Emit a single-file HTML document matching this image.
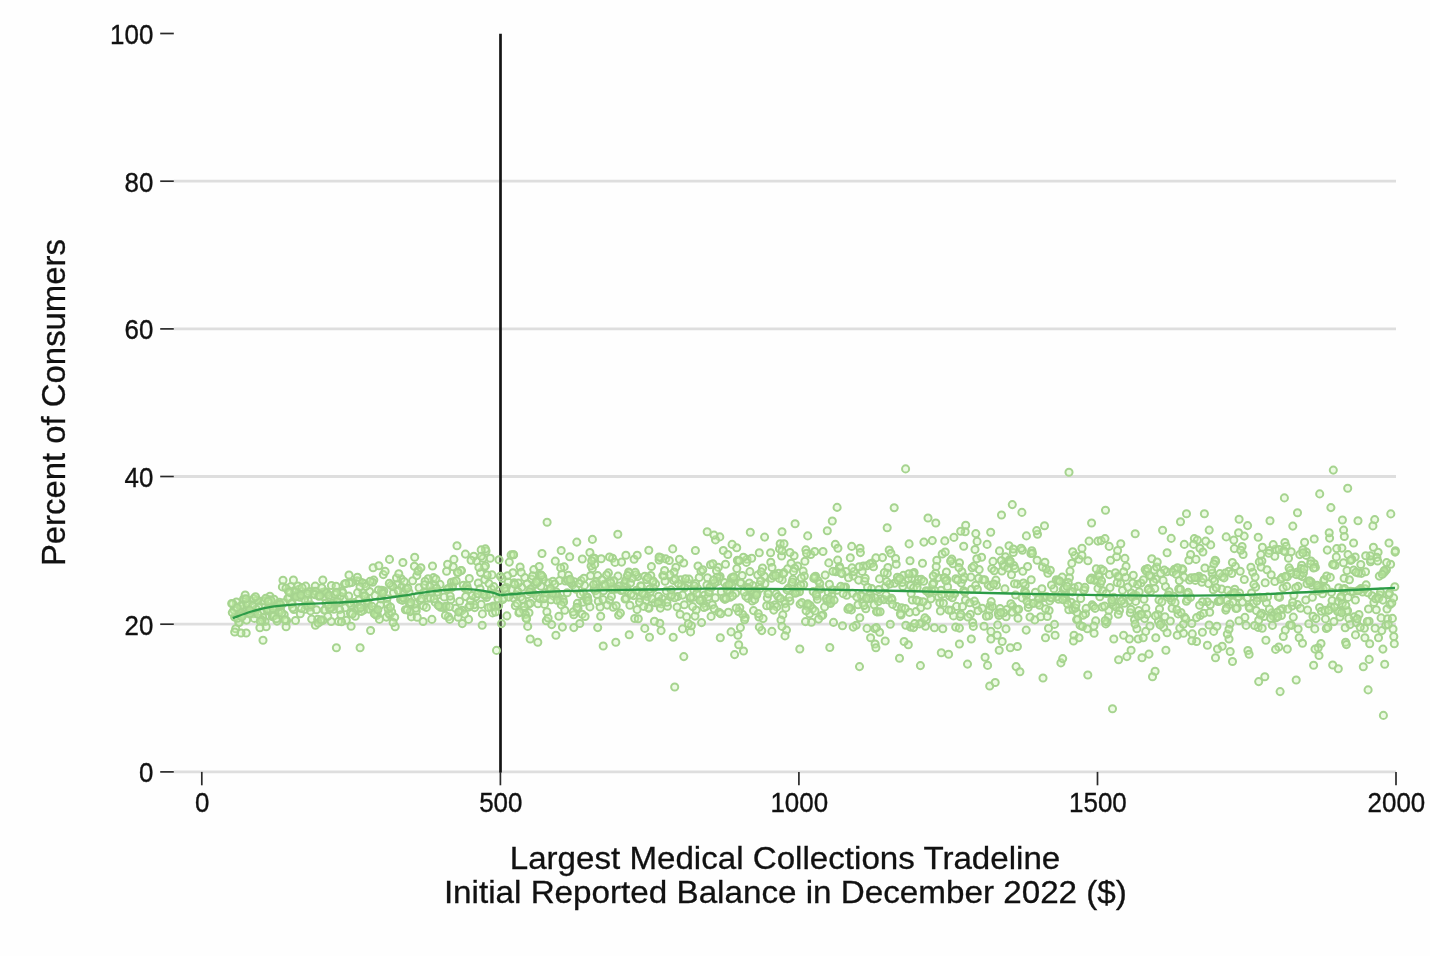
<!DOCTYPE html>
<html><head><meta charset="utf-8"><title>Chart</title>
<style>
html,body{margin:0;padding:0;background:#fff;}
body{width:1430px;height:956px;overflow:hidden;}
svg{display:block;will-change:transform;font-family:"Liberation Sans",sans-serif;}
</style></head><body>
<svg width="1430" height="956" viewBox="0 0 1430 956">
<rect width="1430" height="956" fill="#fefefe"/>
<g stroke="#dedede" stroke-width="2.8"><line x1="173.8" x2="1396" y1="771.9" y2="771.9"/><line x1="173.8" x2="1396" y1="624.2" y2="624.2"/><line x1="173.8" x2="1396" y1="476.5" y2="476.5"/><line x1="173.8" x2="1396" y1="328.9" y2="328.9"/><line x1="173.8" x2="1396" y1="181.2" y2="181.2"/></g>
<line x1="500.5" x2="500.5" y1="33.8" y2="772.6" stroke="#141414" stroke-width="2.7"/>
<g stroke="#2a2a2a" stroke-width="1.7"><line x1="160.2" x2="173.8" y1="771.9" y2="771.9"/><line x1="160.2" x2="173.8" y1="624.2" y2="624.2"/><line x1="160.2" x2="173.8" y1="476.5" y2="476.5"/><line x1="160.2" x2="173.8" y1="328.9" y2="328.9"/><line x1="160.2" x2="173.8" y1="181.2" y2="181.2"/><line x1="160.2" x2="173.8" y1="33.5" y2="33.5"/><line x1="201.8" x2="201.8" y1="771.9" y2="785.3"/><line x1="500.4" x2="500.4" y1="771.9" y2="785.3"/><line x1="798.9" x2="798.9" y1="771.9" y2="785.3"/><line x1="1097.5" x2="1097.5" y1="771.9" y2="785.3"/><line x1="1396.0" x2="1396.0" y1="771.9" y2="785.3"/></g>
<g fill="#c8f5a8" fill-opacity="0.3" stroke="#a6d48f" stroke-width="2"><circle cx="511.7" cy="589.5" r="3.55"/><circle cx="1215.5" cy="657.8" r="3.55"/><circle cx="1313.0" cy="616.3" r="3.55"/><circle cx="806.7" cy="604.6" r="3.55"/><circle cx="895.6" cy="558.5" r="3.55"/><circle cx="466.3" cy="587.9" r="3.55"/><circle cx="885.5" cy="586.6" r="3.55"/><circle cx="988.8" cy="615.7" r="3.55"/><circle cx="1065.2" cy="597.8" r="3.55"/><circle cx="845.5" cy="587.0" r="3.55"/><circle cx="987.1" cy="544.4" r="3.55"/><circle cx="544.5" cy="604.4" r="3.55"/><circle cx="290.8" cy="586.6" r="3.55"/><circle cx="972.1" cy="567.8" r="3.55"/><circle cx="1129.1" cy="600.7" r="3.55"/><circle cx="261.5" cy="601.2" r="3.55"/><circle cx="782.8" cy="614.9" r="3.55"/><circle cx="592.9" cy="558.0" r="3.55"/><circle cx="1330.9" cy="606.8" r="3.55"/><circle cx="759.5" cy="584.7" r="3.55"/><circle cx="902.8" cy="586.4" r="3.55"/><circle cx="244.8" cy="607.8" r="3.55"/><circle cx="535.0" cy="584.5" r="3.55"/><circle cx="451.4" cy="582.3" r="3.55"/><circle cx="690.2" cy="598.4" r="3.55"/><circle cx="363.0" cy="592.8" r="3.55"/><circle cx="490.2" cy="558.3" r="3.55"/><circle cx="877.7" cy="612.0" r="3.55"/><circle cx="289.6" cy="597.3" r="3.55"/><circle cx="655.6" cy="583.9" r="3.55"/><circle cx="1144.0" cy="599.2" r="3.55"/><circle cx="531.4" cy="579.0" r="3.55"/><circle cx="724.9" cy="599.4" r="3.55"/><circle cx="416.2" cy="610.9" r="3.55"/><circle cx="737.4" cy="560.2" r="3.55"/><circle cx="492.6" cy="612.9" r="3.55"/><circle cx="811.4" cy="622.3" r="3.55"/><circle cx="603.6" cy="590.7" r="3.55"/><circle cx="601.2" cy="558.8" r="3.55"/><circle cx="600.1" cy="607.0" r="3.55"/><circle cx="1109.4" cy="574.6" r="3.55"/><circle cx="1342.9" cy="589.3" r="3.55"/><circle cx="331.4" cy="585.5" r="3.55"/><circle cx="1001.9" cy="571.0" r="3.55"/><circle cx="647.2" cy="596.6" r="3.55"/><circle cx="1066.4" cy="599.8" r="3.55"/><circle cx="1278.8" cy="647.0" r="3.55"/><circle cx="465.7" cy="596.6" r="3.55"/><circle cx="865.8" cy="608.7" r="3.55"/><circle cx="1348.2" cy="597.4" r="3.55"/><circle cx="965.5" cy="600.0" r="3.55"/><circle cx="683.8" cy="656.6" r="3.55"/><circle cx="1293.9" cy="595.2" r="3.55"/><circle cx="1259.9" cy="597.4" r="3.55"/><circle cx="618.6" cy="615.1" r="3.55"/><circle cx="527.8" cy="594.5" r="3.55"/><circle cx="1221.6" cy="589.1" r="3.55"/><circle cx="899.5" cy="658.3" r="3.55"/><circle cx="925.5" cy="626.2" r="3.55"/><circle cx="547.1" cy="522.3" r="3.55"/><circle cx="1355.2" cy="557.0" r="3.55"/><circle cx="1387.6" cy="618.7" r="3.55"/><circle cx="1210.3" cy="604.8" r="3.55"/><circle cx="1229.0" cy="639.0" r="3.55"/><circle cx="710.5" cy="564.8" r="3.55"/><circle cx="503.9" cy="597.9" r="3.55"/><circle cx="423.1" cy="621.5" r="3.55"/><circle cx="1150.6" cy="591.4" r="3.55"/><circle cx="816.8" cy="596.1" r="3.55"/><circle cx="373.1" cy="567.8" r="3.55"/><circle cx="867.0" cy="628.4" r="3.55"/><circle cx="988.2" cy="585.1" r="3.55"/><circle cx="474.7" cy="607.6" r="3.55"/><circle cx="758.9" cy="617.0" r="3.55"/><circle cx="888.5" cy="600.0" r="3.55"/><circle cx="626.9" cy="587.2" r="3.55"/><circle cx="1031.8" cy="550.8" r="3.55"/><circle cx="1234.8" cy="589.3" r="3.55"/><circle cx="386.3" cy="617.1" r="3.55"/><circle cx="1266.4" cy="602.7" r="3.55"/><circle cx="1353.6" cy="570.1" r="3.55"/><circle cx="731.4" cy="577.9" r="3.55"/><circle cx="521.8" cy="587.3" r="3.55"/><circle cx="533.2" cy="593.4" r="3.55"/><circle cx="782.0" cy="531.8" r="3.55"/><circle cx="730.2" cy="597.2" r="3.55"/><circle cx="499.2" cy="590.5" r="3.55"/><circle cx="813.2" cy="591.5" r="3.55"/><circle cx="1144.6" cy="618.6" r="3.55"/><circle cx="376.2" cy="611.7" r="3.55"/><circle cx="989.7" cy="686.0" r="3.55"/><circle cx="1378.5" cy="637.7" r="3.55"/><circle cx="468.6" cy="619.4" r="3.55"/><circle cx="268.7" cy="611.1" r="3.55"/><circle cx="706.3" cy="606.4" r="3.55"/><circle cx="1113.0" cy="605.0" r="3.55"/><circle cx="963.7" cy="590.8" r="3.55"/><circle cx="896.8" cy="606.6" r="3.55"/><circle cx="1215.7" cy="561.2" r="3.55"/><circle cx="1329.1" cy="609.7" r="3.55"/><circle cx="443.6" cy="607.2" r="3.55"/><circle cx="931.5" cy="589.8" r="3.55"/><circle cx="728.4" cy="612.2" r="3.55"/><circle cx="917.7" cy="583.2" r="3.55"/><circle cx="986.4" cy="616.3" r="3.55"/><circle cx="1323.8" cy="580.7" r="3.55"/><circle cx="1379.9" cy="595.0" r="3.55"/><circle cx="1095.7" cy="620.9" r="3.55"/><circle cx="1003.1" cy="564.6" r="3.55"/><circle cx="246.2" cy="633.0" r="3.55"/><circle cx="720.1" cy="576.5" r="3.55"/><circle cx="1068.8" cy="609.7" r="3.55"/><circle cx="433.5" cy="577.6" r="3.55"/><circle cx="608.4" cy="572.9" r="3.55"/><circle cx="918.3" cy="579.5" r="3.55"/><circle cx="1012.7" cy="606.2" r="3.55"/><circle cx="953.0" cy="563.7" r="3.55"/><circle cx="244.2" cy="599.7" r="3.55"/><circle cx="468.7" cy="607.1" r="3.55"/><circle cx="306.9" cy="595.3" r="3.55"/><circle cx="712.3" cy="604.7" r="3.55"/><circle cx="1013.3" cy="552.5" r="3.55"/><circle cx="1275.4" cy="549.3" r="3.55"/><circle cx="1056.3" cy="579.8" r="3.55"/><circle cx="434.7" cy="584.5" r="3.55"/><circle cx="853.2" cy="575.9" r="3.55"/><circle cx="734.6" cy="654.6" r="3.55"/><circle cx="803.7" cy="584.6" r="3.55"/><circle cx="1283.1" cy="588.0" r="3.55"/><circle cx="277.6" cy="603.8" r="3.55"/><circle cx="300.3" cy="613.8" r="3.55"/><circle cx="965.7" cy="525.3" r="3.55"/><circle cx="373.8" cy="580.1" r="3.55"/><circle cx="486.0" cy="551.0" r="3.55"/><circle cx="798.3" cy="587.7" r="3.55"/><circle cx="483.0" cy="558.3" r="3.55"/><circle cx="1018.0" cy="618.3" r="3.55"/><circle cx="442.4" cy="607.1" r="3.55"/><circle cx="1363.3" cy="666.8" r="3.55"/><circle cx="270.5" cy="610.0" r="3.55"/><circle cx="1078.9" cy="559.2" r="3.55"/><circle cx="776.2" cy="593.9" r="3.55"/><circle cx="1218.1" cy="601.5" r="3.55"/><circle cx="967.5" cy="664.1" r="3.55"/><circle cx="1370.5" cy="561.8" r="3.55"/><circle cx="453.2" cy="566.7" r="3.55"/><circle cx="1028.2" cy="607.5" r="3.55"/><circle cx="266.9" cy="609.7" r="3.55"/><circle cx="755.9" cy="592.7" r="3.55"/><circle cx="338.5" cy="621.4" r="3.55"/><circle cx="474.1" cy="604.8" r="3.55"/><circle cx="1213.7" cy="631.4" r="3.55"/><circle cx="1154.2" cy="569.9" r="3.55"/><circle cx="725.5" cy="564.2" r="3.55"/><circle cx="333.2" cy="604.3" r="3.55"/><circle cx="979.2" cy="569.6" r="3.55"/><circle cx="938.6" cy="597.3" r="3.55"/><circle cx="383.9" cy="590.7" r="3.55"/><circle cx="1010.3" cy="647.8" r="3.55"/><circle cx="1047.9" cy="573.2" r="3.55"/><circle cx="350.5" cy="613.2" r="3.55"/><circle cx="1070.6" cy="591.2" r="3.55"/><circle cx="809.6" cy="613.7" r="3.55"/><circle cx="1302.3" cy="576.6" r="3.55"/><circle cx="1370.9" cy="559.9" r="3.55"/><circle cx="1311.2" cy="582.0" r="3.55"/><circle cx="1006.0" cy="628.9" r="3.55"/><circle cx="313.5" cy="591.2" r="3.55"/><circle cx="533.8" cy="569.6" r="3.55"/><circle cx="538.0" cy="603.7" r="3.55"/><circle cx="598.3" cy="601.2" r="3.55"/><circle cx="1165.9" cy="650.3" r="3.55"/><circle cx="956.5" cy="606.4" r="3.55"/><circle cx="332.6" cy="602.7" r="3.55"/><circle cx="265.1" cy="621.5" r="3.55"/><circle cx="955.9" cy="578.8" r="3.55"/><circle cx="527.2" cy="583.8" r="3.55"/><circle cx="1136.3" cy="595.5" r="3.55"/><circle cx="1253.3" cy="603.4" r="3.55"/><circle cx="1244.9" cy="617.4" r="3.55"/><circle cx="939.8" cy="602.7" r="3.55"/><circle cx="1117.2" cy="582.6" r="3.55"/><circle cx="1326.3" cy="628.5" r="3.55"/><circle cx="1338.7" cy="587.8" r="3.55"/><circle cx="234.6" cy="617.1" r="3.55"/><circle cx="425.7" cy="592.8" r="3.55"/><circle cx="322.8" cy="580.0" r="3.55"/><circle cx="1157.8" cy="614.5" r="3.55"/><circle cx="610.2" cy="580.8" r="3.55"/><circle cx="381.5" cy="590.2" r="3.55"/><circle cx="397.1" cy="584.6" r="3.55"/><circle cx="1037.1" cy="560.2" r="3.55"/><circle cx="878.9" cy="589.5" r="3.55"/><circle cx="1384.7" cy="664.2" r="3.55"/><circle cx="735.6" cy="593.3" r="3.55"/><circle cx="749.9" cy="571.6" r="3.55"/><circle cx="1016.8" cy="609.5" r="3.55"/><circle cx="1074.8" cy="555.6" r="3.55"/><circle cx="882.5" cy="557.6" r="3.55"/><circle cx="1258.1" cy="627.4" r="3.55"/><circle cx="284.2" cy="614.8" r="3.55"/><circle cx="389.9" cy="614.8" r="3.55"/><circle cx="1156.0" cy="579.1" r="3.55"/><circle cx="317.6" cy="619.4" r="3.55"/><circle cx="771.4" cy="578.3" r="3.55"/><circle cx="415.6" cy="608.2" r="3.55"/><circle cx="933.8" cy="582.8" r="3.55"/><circle cx="1299.2" cy="637.7" r="3.55"/><circle cx="266.2" cy="626.7" r="3.55"/><circle cx="1148.8" cy="588.6" r="3.55"/><circle cx="351.1" cy="626.3" r="3.55"/><circle cx="1261.9" cy="561.0" r="3.55"/><circle cx="638.9" cy="591.5" r="3.55"/><circle cx="1005.5" cy="556.9" r="3.55"/><circle cx="532.6" cy="575.9" r="3.55"/><circle cx="1085.5" cy="613.8" r="3.55"/><circle cx="781.0" cy="620.1" r="3.55"/><circle cx="427.5" cy="598.2" r="3.55"/><circle cx="644.8" cy="576.3" r="3.55"/><circle cx="346.3" cy="620.3" r="3.55"/><circle cx="1239.6" cy="593.1" r="3.55"/><circle cx="243.0" cy="605.2" r="3.55"/><circle cx="592.3" cy="568.6" r="3.55"/><circle cx="918.9" cy="601.2" r="3.55"/><circle cx="595.3" cy="590.7" r="3.55"/><circle cx="540.4" cy="574.8" r="3.55"/><circle cx="591.1" cy="565.9" r="3.55"/><circle cx="949.4" cy="596.1" r="3.55"/><circle cx="589.9" cy="606.9" r="3.55"/><circle cx="1183.5" cy="633.2" r="3.55"/><circle cx="1092.1" cy="604.9" r="3.55"/><circle cx="1120.7" cy="583.6" r="3.55"/><circle cx="990.9" cy="639.0" r="3.55"/><circle cx="582.7" cy="602.3" r="3.55"/><circle cx="784.0" cy="572.6" r="3.55"/><circle cx="417.4" cy="596.1" r="3.55"/><circle cx="339.1" cy="602.8" r="3.55"/><circle cx="1083.1" cy="615.3" r="3.55"/><circle cx="1215.1" cy="560.3" r="3.55"/><circle cx="1289.7" cy="625.0" r="3.55"/><circle cx="482.4" cy="613.9" r="3.55"/><circle cx="491.4" cy="589.0" r="3.55"/><circle cx="1084.3" cy="589.9" r="3.55"/><circle cx="982.2" cy="608.3" r="3.55"/><circle cx="557.7" cy="596.1" r="3.55"/><circle cx="275.2" cy="606.5" r="3.55"/><circle cx="251.4" cy="600.8" r="3.55"/><circle cx="435.3" cy="602.4" r="3.55"/><circle cx="1321.0" cy="643.5" r="3.55"/><circle cx="609.6" cy="600.1" r="3.55"/><circle cx="1170.3" cy="621.0" r="3.55"/><circle cx="235.2" cy="607.8" r="3.55"/><circle cx="786.5" cy="630.1" r="3.55"/><circle cx="1180.5" cy="521.8" r="3.55"/><circle cx="1040.7" cy="616.7" r="3.55"/><circle cx="752.9" cy="585.6" r="3.55"/><circle cx="1339.9" cy="617.0" r="3.55"/><circle cx="1022.8" cy="571.2" r="3.55"/><circle cx="395.2" cy="626.7" r="3.55"/><circle cx="1212.1" cy="573.3" r="3.55"/><circle cx="585.7" cy="596.8" r="3.55"/><circle cx="1297.5" cy="512.7" r="3.55"/><circle cx="1292.1" cy="606.0" r="3.55"/><circle cx="1150.0" cy="626.0" r="3.55"/><circle cx="602.5" cy="586.1" r="3.55"/><circle cx="1372.1" cy="595.7" r="3.55"/><circle cx="1030.9" cy="553.5" r="3.55"/><circle cx="1184.3" cy="544.4" r="3.55"/><circle cx="880.7" cy="598.7" r="3.55"/><circle cx="382.1" cy="591.3" r="3.55"/><circle cx="1230.6" cy="594.9" r="3.55"/><circle cx="1069.4" cy="577.8" r="3.55"/><circle cx="1097.5" cy="580.0" r="3.55"/><circle cx="750.3" cy="532.3" r="3.55"/><circle cx="729.6" cy="592.9" r="3.55"/><circle cx="1247.9" cy="650.5" r="3.55"/><circle cx="1369.1" cy="621.3" r="3.55"/><circle cx="1228.8" cy="571.3" r="3.55"/><circle cx="1299.9" cy="575.3" r="3.55"/><circle cx="640.1" cy="598.2" r="3.55"/><circle cx="982.8" cy="579.8" r="3.55"/><circle cx="805.5" cy="621.6" r="3.55"/><circle cx="723.3" cy="550.5" r="3.55"/><circle cx="770.6" cy="552.7" r="3.55"/><circle cx="943.4" cy="603.3" r="3.55"/><circle cx="260.9" cy="612.1" r="3.55"/><circle cx="1340.5" cy="598.1" r="3.55"/><circle cx="911.8" cy="578.1" r="3.55"/><circle cx="513.5" cy="598.0" r="3.55"/><circle cx="280.6" cy="610.2" r="3.55"/><circle cx="856.2" cy="625.2" r="3.55"/><circle cx="411.4" cy="616.9" r="3.55"/><circle cx="308.7" cy="605.0" r="3.55"/><circle cx="496.5" cy="650.4" r="3.55"/><circle cx="1231.2" cy="594.9" r="3.55"/><circle cx="1098.6" cy="573.9" r="3.55"/><circle cx="644.8" cy="628.4" r="3.55"/><circle cx="711.7" cy="587.3" r="3.55"/><circle cx="309.3" cy="591.5" r="3.55"/><circle cx="1086.1" cy="608.4" r="3.55"/><circle cx="637.7" cy="576.6" r="3.55"/><circle cx="354.1" cy="602.6" r="3.55"/><circle cx="453.9" cy="559.4" r="3.55"/><circle cx="1288.5" cy="558.2" r="3.55"/><circle cx="560.1" cy="600.6" r="3.55"/><circle cx="1234.3" cy="548.6" r="3.55"/><circle cx="1259.3" cy="561.9" r="3.55"/><circle cx="1099.8" cy="596.7" r="3.55"/><circle cx="997.7" cy="624.9" r="3.55"/><circle cx="281.2" cy="605.5" r="3.55"/><circle cx="1242.5" cy="602.1" r="3.55"/><circle cx="1009.0" cy="545.7" r="3.55"/><circle cx="781.6" cy="556.0" r="3.55"/><circle cx="1252.7" cy="572.3" r="3.55"/><circle cx="419.1" cy="587.7" r="3.55"/><circle cx="545.7" cy="596.7" r="3.55"/><circle cx="1026.4" cy="595.6" r="3.55"/><circle cx="748.1" cy="598.4" r="3.55"/><circle cx="590.5" cy="575.8" r="3.55"/><circle cx="673.5" cy="580.4" r="3.55"/><circle cx="659.1" cy="560.0" r="3.55"/><circle cx="972.7" cy="622.6" r="3.55"/><circle cx="288.4" cy="590.8" r="3.55"/><circle cx="996.5" cy="585.1" r="3.55"/><circle cx="518.9" cy="612.9" r="3.55"/><circle cx="753.5" cy="610.6" r="3.55"/><circle cx="1094.1" cy="633.2" r="3.55"/><circle cx="594.1" cy="589.1" r="3.55"/><circle cx="623.9" cy="585.8" r="3.55"/><circle cx="1159.0" cy="600.1" r="3.55"/><circle cx="672.7" cy="548.9" r="3.55"/><circle cx="1280.1" cy="691.6" r="3.55"/><circle cx="400.6" cy="599.5" r="3.55"/><circle cx="1189.4" cy="580.0" r="3.55"/><circle cx="682.5" cy="628.9" r="3.55"/><circle cx="297.3" cy="595.0" r="3.55"/><circle cx="1329.6" cy="538.1" r="3.55"/><circle cx="568.4" cy="575.4" r="3.55"/><circle cx="269.9" cy="596.2" r="3.55"/><circle cx="935.8" cy="523.0" r="3.55"/><circle cx="405.4" cy="609.8" r="3.55"/><circle cx="360.1" cy="647.7" r="3.55"/><circle cx="1225.2" cy="573.1" r="3.55"/><circle cx="1327.3" cy="550.1" r="3.55"/><circle cx="973.9" cy="566.1" r="3.55"/><circle cx="666.3" cy="590.9" r="3.55"/><circle cx="662.8" cy="575.6" r="3.55"/><circle cx="1093.3" cy="606.2" r="3.55"/><circle cx="749.3" cy="583.0" r="3.55"/><circle cx="1388.8" cy="594.7" r="3.55"/><circle cx="847.9" cy="609.3" r="3.55"/><circle cx="380.3" cy="605.1" r="3.55"/><circle cx="745.2" cy="617.5" r="3.55"/><circle cx="1264.0" cy="616.5" r="3.55"/><circle cx="1016.1" cy="666.6" r="3.55"/><circle cx="356.4" cy="610.2" r="3.55"/><circle cx="718.3" cy="567.4" r="3.55"/><circle cx="804.9" cy="561.2" r="3.55"/><circle cx="485.4" cy="548.9" r="3.55"/><circle cx="1000.1" cy="608.6" r="3.55"/><circle cx="1274.8" cy="581.5" r="3.55"/><circle cx="739.8" cy="607.8" r="3.55"/><circle cx="1378.1" cy="552.2" r="3.55"/><circle cx="1196.6" cy="641.5" r="3.55"/><circle cx="243.6" cy="599.0" r="3.55"/><circle cx="240.6" cy="605.7" r="3.55"/><circle cx="256.7" cy="600.3" r="3.55"/><circle cx="309.9" cy="607.0" r="3.55"/><circle cx="1074.0" cy="635.2" r="3.55"/><circle cx="1073.0" cy="609.6" r="3.55"/><circle cx="791.1" cy="563.2" r="3.55"/><circle cx="637.1" cy="609.6" r="3.55"/><circle cx="1025.2" cy="585.5" r="3.55"/><circle cx="782.2" cy="579.9" r="3.55"/><circle cx="997.2" cy="635.2" r="3.55"/><circle cx="1345.6" cy="642.2" r="3.55"/><circle cx="779.5" cy="548.9" r="3.55"/><circle cx="1210.7" cy="544.9" r="3.55"/><circle cx="800.1" cy="604.1" r="3.55"/><circle cx="1271.8" cy="612.9" r="3.55"/><circle cx="363.6" cy="610.0" r="3.55"/><circle cx="698.0" cy="566.0" r="3.55"/><circle cx="1091.5" cy="578.0" r="3.55"/><circle cx="1161.3" cy="623.2" r="3.55"/><circle cx="1068.2" cy="582.5" r="3.55"/><circle cx="1043.7" cy="596.7" r="3.55"/><circle cx="1375.1" cy="628.2" r="3.55"/><circle cx="699.2" cy="577.5" r="3.55"/><circle cx="501.5" cy="623.6" r="3.55"/><circle cx="235.7" cy="628.8" r="3.55"/><circle cx="928.0" cy="518.0" r="3.55"/><circle cx="1028.8" cy="604.4" r="3.55"/><circle cx="254.9" cy="612.2" r="3.55"/><circle cx="778.6" cy="573.2" r="3.55"/><circle cx="796.5" cy="591.5" r="3.55"/><circle cx="648.8" cy="550.2" r="3.55"/><circle cx="1006.1" cy="616.8" r="3.55"/><circle cx="948.6" cy="654.3" r="3.55"/><circle cx="573.8" cy="614.8" r="3.55"/><circle cx="245.4" cy="611.7" r="3.55"/><circle cx="612.6" cy="586.6" r="3.55"/><circle cx="649.0" cy="608.3" r="3.55"/><circle cx="1319.0" cy="655.5" r="3.55"/><circle cx="515.3" cy="605.8" r="3.55"/><circle cx="431.1" cy="590.9" r="3.55"/><circle cx="879.6" cy="632.2" r="3.55"/><circle cx="536.8" cy="596.4" r="3.55"/><circle cx="1017.4" cy="584.1" r="3.55"/><circle cx="469.9" cy="605.5" r="3.55"/><circle cx="885.2" cy="641.0" r="3.55"/><circle cx="1187.6" cy="599.4" r="3.55"/><circle cx="1390.0" cy="604.6" r="3.55"/><circle cx="946.4" cy="572.0" r="3.55"/><circle cx="1212.7" cy="578.8" r="3.55"/><circle cx="461.5" cy="570.6" r="3.55"/><circle cx="1105.8" cy="623.9" r="3.55"/><circle cx="976.2" cy="604.8" r="3.55"/><circle cx="367.8" cy="602.9" r="3.55"/><circle cx="1184.6" cy="617.3" r="3.55"/><circle cx="315.2" cy="586.1" r="3.55"/><circle cx="921.3" cy="579.4" r="3.55"/><circle cx="1292.8" cy="526.1" r="3.55"/><circle cx="990.0" cy="605.9" r="3.55"/><circle cx="961.3" cy="583.1" r="3.55"/><circle cx="815.6" cy="576.2" r="3.55"/><circle cx="747.0" cy="559.3" r="3.55"/><circle cx="810.8" cy="554.5" r="3.55"/><circle cx="282.4" cy="586.9" r="3.55"/><circle cx="1050.3" cy="570.3" r="3.55"/><circle cx="876.5" cy="611.6" r="3.55"/><circle cx="1386.4" cy="569.7" r="3.55"/><circle cx="493.2" cy="606.1" r="3.55"/><circle cx="1219.3" cy="601.0" r="3.55"/><circle cx="1249.1" cy="606.8" r="3.55"/><circle cx="721.3" cy="591.8" r="3.55"/><circle cx="1054.5" cy="624.4" r="3.55"/><circle cx="1239.1" cy="519.2" r="3.55"/><circle cx="1141.0" cy="583.0" r="3.55"/><circle cx="861.6" cy="596.3" r="3.55"/><circle cx="1364.4" cy="628.3" r="3.55"/><circle cx="912.3" cy="600.0" r="3.55"/><circle cx="579.8" cy="623.5" r="3.55"/><circle cx="404.8" cy="599.3" r="3.55"/><circle cx="951.8" cy="559.1" r="3.55"/><circle cx="770.8" cy="562.3" r="3.55"/><circle cx="262.7" cy="617.3" r="3.55"/><circle cx="684.3" cy="604.8" r="3.55"/><circle cx="1204.9" cy="568.0" r="3.55"/><circle cx="1002.2" cy="641.5" r="3.55"/><circle cx="990.9" cy="631.4" r="3.55"/><circle cx="1350.0" cy="624.6" r="3.55"/><circle cx="1091.6" cy="523.0" r="3.55"/><circle cx="910.6" cy="585.5" r="3.55"/><circle cx="236.4" cy="602.0" r="3.55"/><circle cx="975.0" cy="549.5" r="3.55"/><circle cx="1290.3" cy="570.4" r="3.55"/><circle cx="805.9" cy="549.9" r="3.55"/><circle cx="1162.6" cy="530.3" r="3.55"/><circle cx="542.7" cy="576.9" r="3.55"/><circle cx="1175.7" cy="569.6" r="3.55"/><circle cx="496.2" cy="594.1" r="3.55"/><circle cx="621.0" cy="590.5" r="3.55"/><circle cx="446.6" cy="571.2" r="3.55"/><circle cx="653.8" cy="588.1" r="3.55"/><circle cx="915.9" cy="611.6" r="3.55"/><circle cx="1112.5" cy="708.7" r="3.55"/><circle cx="1108.2" cy="617.0" r="3.55"/><circle cx="959.5" cy="562.7" r="3.55"/><circle cx="1012.3" cy="504.6" r="3.55"/><circle cx="665.1" cy="581.2" r="3.55"/><circle cx="675.9" cy="567.3" r="3.55"/><circle cx="543.3" cy="579.8" r="3.55"/><circle cx="677.7" cy="596.5" r="3.55"/><circle cx="889.2" cy="550.0" r="3.55"/><circle cx="716.5" cy="570.8" r="3.55"/><circle cx="1301.7" cy="565.3" r="3.55"/><circle cx="1338.1" cy="601.4" r="3.55"/><circle cx="322.4" cy="592.5" r="3.55"/><circle cx="1364.9" cy="637.7" r="3.55"/><circle cx="327.2" cy="594.1" r="3.55"/><circle cx="626.3" cy="598.2" r="3.55"/><circle cx="677.1" cy="607.0" r="3.55"/><circle cx="1282.6" cy="608.7" r="3.55"/><circle cx="401.8" cy="586.9" r="3.55"/><circle cx="965.2" cy="531.8" r="3.55"/><circle cx="437.1" cy="595.3" r="3.55"/><circle cx="326.6" cy="592.4" r="3.55"/><circle cx="1341.9" cy="548.1" r="3.55"/><circle cx="514.1" cy="582.7" r="3.55"/><circle cx="1376.3" cy="609.8" r="3.55"/><circle cx="1018.6" cy="609.3" r="3.55"/><circle cx="1060.9" cy="662.9" r="3.55"/><circle cx="1244.2" cy="536.1" r="3.55"/><circle cx="388.7" cy="613.2" r="3.55"/><circle cx="1264.8" cy="676.8" r="3.55"/><circle cx="635.9" cy="574.9" r="3.55"/><circle cx="687.8" cy="583.0" r="3.55"/><circle cx="1335.1" cy="565.3" r="3.55"/><circle cx="742.8" cy="614.6" r="3.55"/><circle cx="1280.2" cy="610.0" r="3.55"/><circle cx="613.2" cy="607.2" r="3.55"/><circle cx="1376.9" cy="557.4" r="3.55"/><circle cx="682.5" cy="595.1" r="3.55"/><circle cx="516.5" cy="594.8" r="3.55"/><circle cx="1171.5" cy="600.7" r="3.55"/><circle cx="953.5" cy="615.9" r="3.55"/><circle cx="719.5" cy="578.1" r="3.55"/><circle cx="391.1" cy="585.3" r="3.55"/><circle cx="484.8" cy="579.6" r="3.55"/><circle cx="1256.3" cy="610.6" r="3.55"/><circle cx="409.0" cy="592.1" r="3.55"/><circle cx="344.5" cy="584.0" r="3.55"/><circle cx="1373.4" cy="547.3" r="3.55"/><circle cx="305.1" cy="609.2" r="3.55"/><circle cx="1058.6" cy="599.2" r="3.55"/><circle cx="818.0" cy="580.6" r="3.55"/><circle cx="970.3" cy="614.4" r="3.55"/><circle cx="595.9" cy="584.2" r="3.55"/><circle cx="752.3" cy="601.0" r="3.55"/><circle cx="1080.1" cy="625.4" r="3.55"/><circle cx="1347.7" cy="488.3" r="3.55"/><circle cx="1205.7" cy="541.1" r="3.55"/><circle cx="551.7" cy="624.6" r="3.55"/><circle cx="364.8" cy="583.7" r="3.55"/><circle cx="326.0" cy="603.1" r="3.55"/><circle cx="1391.8" cy="603.0" r="3.55"/><circle cx="883.7" cy="599.6" r="3.55"/><circle cx="1032.4" cy="553.2" r="3.55"/><circle cx="1314.2" cy="563.8" r="3.55"/><circle cx="936.8" cy="560.2" r="3.55"/><circle cx="813.8" cy="578.4" r="3.55"/><circle cx="1343.5" cy="562.8" r="3.55"/><circle cx="1379.3" cy="576.1" r="3.55"/><circle cx="490.8" cy="607.0" r="3.55"/><circle cx="611.4" cy="596.4" r="3.55"/><circle cx="1383.5" cy="572.8" r="3.55"/><circle cx="690.6" cy="631.9" r="3.55"/><circle cx="1133.3" cy="575.3" r="3.55"/><circle cx="1015.6" cy="595.0" r="3.55"/><circle cx="586.9" cy="600.2" r="3.55"/><circle cx="853.2" cy="627.1" r="3.55"/><circle cx="1296.9" cy="572.3" r="3.55"/><circle cx="989.4" cy="609.7" r="3.55"/><circle cx="1316.0" cy="618.6" r="3.55"/><circle cx="584.5" cy="585.4" r="3.55"/><circle cx="1053.9" cy="588.8" r="3.55"/><circle cx="827.3" cy="530.8" r="3.55"/><circle cx="655.0" cy="602.7" r="3.55"/><circle cx="1291.5" cy="625.4" r="3.55"/><circle cx="745.8" cy="596.2" r="3.55"/><circle cx="520.1" cy="567.0" r="3.55"/><circle cx="923.9" cy="542.1" r="3.55"/><circle cx="245.2" cy="595.0" r="3.55"/><circle cx="481.2" cy="549.9" r="3.55"/><circle cx="1059.2" cy="580.7" r="3.55"/><circle cx="1297.5" cy="604.6" r="3.55"/><circle cx="1164.9" cy="616.7" r="3.55"/><circle cx="901.6" cy="607.7" r="3.55"/><circle cx="403.6" cy="592.0" r="3.55"/><circle cx="788.2" cy="588.4" r="3.55"/><circle cx="1342.4" cy="520.0" r="3.55"/><circle cx="625.9" cy="555.2" r="3.55"/><circle cx="872.3" cy="563.1" r="3.55"/><circle cx="896.2" cy="564.2" r="3.55"/><circle cx="635.3" cy="572.4" r="3.55"/><circle cx="1133.9" cy="595.3" r="3.55"/><circle cx="482.2" cy="625.2" r="3.55"/><circle cx="779.2" cy="578.4" r="3.55"/><circle cx="476.5" cy="561.1" r="3.55"/><circle cx="978.0" cy="610.8" r="3.55"/><circle cx="452.6" cy="586.1" r="3.55"/><circle cx="241.0" cy="633.0" r="3.55"/><circle cx="1009.1" cy="560.1" r="3.55"/><circle cx="684.9" cy="587.5" r="3.55"/><circle cx="659.8" cy="623.2" r="3.55"/><circle cx="372.6" cy="582.3" r="3.55"/><circle cx="1081.9" cy="555.3" r="3.55"/><circle cx="1126.9" cy="656.6" r="3.55"/><circle cx="990.6" cy="586.6" r="3.55"/><circle cx="414.7" cy="557.3" r="3.55"/><circle cx="478.3" cy="583.0" r="3.55"/><circle cx="528.4" cy="604.4" r="3.55"/><circle cx="518.3" cy="583.1" r="3.55"/><circle cx="506.3" cy="587.3" r="3.55"/><circle cx="1308.8" cy="623.8" r="3.55"/><circle cx="955.7" cy="627.1" r="3.55"/><circle cx="1011.5" cy="574.7" r="3.55"/><circle cx="325.4" cy="609.9" r="3.55"/><circle cx="732.6" cy="595.9" r="3.55"/><circle cx="803.1" cy="571.1" r="3.55"/><circle cx="1076.6" cy="619.6" r="3.55"/><circle cx="1362.6" cy="592.0" r="3.55"/><circle cx="1139.2" cy="591.9" r="3.55"/><circle cx="846.1" cy="571.6" r="3.55"/><circle cx="839.5" cy="566.5" r="3.55"/><circle cx="801.9" cy="602.6" r="3.55"/><circle cx="775.0" cy="604.7" r="3.55"/><circle cx="812.6" cy="608.8" r="3.55"/><circle cx="863.4" cy="566.0" r="3.55"/><circle cx="1305.8" cy="600.0" r="3.55"/><circle cx="530.2" cy="603.3" r="3.55"/><circle cx="667.5" cy="606.2" r="3.55"/><circle cx="1043.0" cy="678.0" r="3.55"/><circle cx="1026.4" cy="535.9" r="3.55"/><circle cx="837.1" cy="507.4" r="3.55"/><circle cx="343.9" cy="598.1" r="3.55"/><circle cx="1097.9" cy="541.1" r="3.55"/><circle cx="1090.9" cy="579.7" r="3.55"/><circle cx="751.7" cy="558.2" r="3.55"/><circle cx="921.9" cy="622.8" r="3.55"/><circle cx="719.8" cy="536.9" r="3.55"/><circle cx="1126.1" cy="566.4" r="3.55"/><circle cx="564.2" cy="566.9" r="3.55"/><circle cx="1367.9" cy="592.8" r="3.55"/><circle cx="1208.5" cy="583.6" r="3.55"/><circle cx="1207.3" cy="601.7" r="3.55"/><circle cx="475.9" cy="596.8" r="3.55"/><circle cx="432.5" cy="566.0" r="3.55"/><circle cx="628.1" cy="591.1" r="3.55"/><circle cx="1222.2" cy="576.7" r="3.55"/><circle cx="460.9" cy="570.6" r="3.55"/><circle cx="1372.9" cy="525.9" r="3.55"/><circle cx="383.3" cy="574.6" r="3.55"/><circle cx="520.7" cy="596.9" r="3.55"/><circle cx="706.9" cy="585.0" r="3.55"/><circle cx="470.5" cy="600.5" r="3.55"/><circle cx="592.4" cy="539.4" r="3.55"/><circle cx="820.4" cy="589.1" r="3.55"/><circle cx="738.6" cy="611.6" r="3.55"/><circle cx="484.2" cy="567.4" r="3.55"/><circle cx="1360.8" cy="588.6" r="3.55"/><circle cx="1385.8" cy="625.3" r="3.55"/><circle cx="807.3" cy="606.2" r="3.55"/><circle cx="1229.4" cy="604.5" r="3.55"/><circle cx="932.7" cy="584.4" r="3.55"/><circle cx="430.5" cy="598.3" r="3.55"/><circle cx="502.7" cy="599.6" r="3.55"/><circle cx="1272.4" cy="625.4" r="3.55"/><circle cx="258.5" cy="607.0" r="3.55"/><circle cx="1267.6" cy="596.9" r="3.55"/><circle cx="746.4" cy="562.4" r="3.55"/><circle cx="248.4" cy="611.9" r="3.55"/><circle cx="843.7" cy="587.3" r="3.55"/><circle cx="1233.8" cy="540.1" r="3.55"/><circle cx="1056.8" cy="596.8" r="3.55"/><circle cx="253.2" cy="613.7" r="3.55"/><circle cx="1395.4" cy="550.7" r="3.55"/><circle cx="993.0" cy="561.4" r="3.55"/><circle cx="827.6" cy="601.1" r="3.55"/><circle cx="861.0" cy="595.2" r="3.55"/><circle cx="829.8" cy="647.5" r="3.55"/><circle cx="823.0" cy="551.5" r="3.55"/><circle cx="486.6" cy="597.5" r="3.55"/><circle cx="977.1" cy="541.4" r="3.55"/><circle cx="1247.6" cy="525.6" r="3.55"/><circle cx="910.4" cy="627.1" r="3.55"/><circle cx="1251.5" cy="593.0" r="3.55"/><circle cx="987.6" cy="665.4" r="3.55"/><circle cx="1377.5" cy="597.2" r="3.55"/><circle cx="311.7" cy="619.1" r="3.55"/><circle cx="1026.2" cy="630.1" r="3.55"/><circle cx="368.4" cy="604.0" r="3.55"/><circle cx="594.7" cy="564.4" r="3.55"/><circle cx="1356.6" cy="622.7" r="3.55"/><circle cx="814.7" cy="551.5" r="3.55"/><circle cx="727.8" cy="554.5" r="3.55"/><circle cx="249.0" cy="613.2" r="3.55"/><circle cx="556.5" cy="592.1" r="3.55"/><circle cx="336.4" cy="647.7" r="3.55"/><circle cx="1324.3" cy="579.5" r="3.55"/><circle cx="1282.0" cy="577.6" r="3.55"/><circle cx="819.2" cy="588.6" r="3.55"/><circle cx="1280.8" cy="579.3" r="3.55"/><circle cx="1048.5" cy="628.3" r="3.55"/><circle cx="546.9" cy="611.8" r="3.55"/><circle cx="1038.3" cy="599.5" r="3.55"/><circle cx="523.6" cy="610.3" r="3.55"/><circle cx="1273.2" cy="544.6" r="3.55"/><circle cx="941.0" cy="590.4" r="3.55"/><circle cx="1306.4" cy="552.1" r="3.55"/><circle cx="587.5" cy="597.1" r="3.55"/><circle cx="572.6" cy="584.9" r="3.55"/><circle cx="538.6" cy="580.4" r="3.55"/><circle cx="913.6" cy="627.6" r="3.55"/><circle cx="1159.5" cy="609.0" r="3.55"/><circle cx="828.2" cy="592.2" r="3.55"/><circle cx="401.2" cy="578.7" r="3.55"/><circle cx="1046.1" cy="568.9" r="3.55"/><circle cx="618.0" cy="576.1" r="3.55"/><circle cx="947.6" cy="586.8" r="3.55"/><circle cx="1332.7" cy="665.0" r="3.55"/><circle cx="597.7" cy="575.6" r="3.55"/><circle cx="315.4" cy="625.2" r="3.55"/><circle cx="357.0" cy="580.8" r="3.55"/><circle cx="1186.5" cy="513.7" r="3.55"/><circle cx="1199.9" cy="548.2" r="3.55"/><circle cx="1033.0" cy="603.2" r="3.55"/><circle cx="437.7" cy="591.9" r="3.55"/><circle cx="1116.0" cy="607.0" r="3.55"/><circle cx="859.8" cy="617.8" r="3.55"/><circle cx="794.1" cy="555.8" r="3.55"/><circle cx="1270.0" cy="520.8" r="3.55"/><circle cx="465.1" cy="588.6" r="3.55"/><circle cx="1247.3" cy="597.8" r="3.55"/><circle cx="508.1" cy="582.0" r="3.55"/><circle cx="717.7" cy="581.4" r="3.55"/><circle cx="295.5" cy="620.5" r="3.55"/><circle cx="1344.6" cy="588.6" r="3.55"/><circle cx="1035.4" cy="592.2" r="3.55"/><circle cx="555.3" cy="561.1" r="3.55"/><circle cx="581.0" cy="580.6" r="3.55"/><circle cx="758.3" cy="613.6" r="3.55"/><circle cx="764.9" cy="583.8" r="3.55"/><circle cx="1304.6" cy="542.2" r="3.55"/><circle cx="1155.1" cy="671.2" r="3.55"/><circle cx="1082.0" cy="548.2" r="3.55"/><circle cx="457.4" cy="572.2" r="3.55"/><circle cx="1191.8" cy="640.7" r="3.55"/><circle cx="662.2" cy="598.8" r="3.55"/><circle cx="524.8" cy="577.6" r="3.55"/><circle cx="365.4" cy="596.2" r="3.55"/><circle cx="1275.6" cy="649.4" r="3.55"/><circle cx="596.5" cy="581.6" r="3.55"/><circle cx="492.0" cy="574.9" r="3.55"/><circle cx="1089.1" cy="541.1" r="3.55"/><circle cx="264.5" cy="600.9" r="3.55"/><circle cx="831.1" cy="601.6" r="3.55"/><circle cx="836.5" cy="571.2" r="3.55"/><circle cx="320.6" cy="621.4" r="3.55"/><circle cx="755.3" cy="590.7" r="3.55"/><circle cx="440.6" cy="607.3" r="3.55"/><circle cx="418.5" cy="570.4" r="3.55"/><circle cx="770.2" cy="605.8" r="3.55"/><circle cx="878.3" cy="601.5" r="3.55"/><circle cx="549.9" cy="590.9" r="3.55"/><circle cx="875.1" cy="644.0" r="3.55"/><circle cx="1384.7" cy="571.8" r="3.55"/><circle cx="458.1" cy="617.3" r="3.55"/><circle cx="1001.5" cy="515.0" r="3.55"/><circle cx="919.5" cy="623.9" r="3.55"/><circle cx="1177.2" cy="635.2" r="3.55"/><circle cx="905.6" cy="468.9" r="3.55"/><circle cx="709.3" cy="592.9" r="3.55"/><circle cx="472.3" cy="595.6" r="3.55"/><circle cx="760.1" cy="588.6" r="3.55"/><circle cx="1112.4" cy="602.3" r="3.55"/><circle cx="1188.8" cy="560.3" r="3.55"/><circle cx="495.0" cy="606.7" r="3.55"/><circle cx="357.6" cy="592.6" r="3.55"/><circle cx="1263.4" cy="597.8" r="3.55"/><circle cx="578.0" cy="608.5" r="3.55"/><circle cx="875.9" cy="647.8" r="3.55"/><circle cx="780.2" cy="543.7" r="3.55"/><circle cx="508.7" cy="597.1" r="3.55"/><circle cx="776.8" cy="606.9" r="3.55"/><circle cx="1101.0" cy="569.0" r="3.55"/><circle cx="240.0" cy="615.2" r="3.55"/><circle cx="890.9" cy="553.3" r="3.55"/><circle cx="505.7" cy="591.1" r="3.55"/><circle cx="402.4" cy="600.4" r="3.55"/><circle cx="897.4" cy="577.3" r="3.55"/><circle cx="1094.5" cy="580.4" r="3.55"/><circle cx="952.4" cy="597.7" r="3.55"/><circle cx="292.0" cy="602.7" r="3.55"/><circle cx="603.2" cy="646.0" r="3.55"/><circle cx="1360.8" cy="564.5" r="3.55"/><circle cx="853.8" cy="571.6" r="3.55"/><circle cx="880.1" cy="611.7" r="3.55"/><circle cx="428.1" cy="578.8" r="3.55"/><circle cx="331.2" cy="621.5" r="3.55"/><circle cx="840.1" cy="568.1" r="3.55"/><circle cx="453.8" cy="581.9" r="3.55"/><circle cx="1333.9" cy="621.6" r="3.55"/><circle cx="1006.7" cy="609.6" r="3.55"/><circle cx="509.3" cy="562.1" r="3.55"/><circle cx="310.5" cy="610.9" r="3.55"/><circle cx="539.8" cy="598.6" r="3.55"/><circle cx="815.0" cy="610.9" r="3.55"/><circle cx="1213.9" cy="564.0" r="3.55"/><circle cx="971.5" cy="589.2" r="3.55"/><circle cx="741.0" cy="583.4" r="3.55"/><circle cx="604.2" cy="584.2" r="3.55"/><circle cx="704.6" cy="595.0" r="3.55"/><circle cx="860.0" cy="548.2" r="3.55"/><circle cx="455.6" cy="608.2" r="3.55"/><circle cx="257.3" cy="600.1" r="3.55"/><circle cx="837.7" cy="560.1" r="3.55"/><circle cx="791.7" cy="584.3" r="3.55"/><circle cx="513.6" cy="554.7" r="3.55"/><circle cx="1237.8" cy="597.4" r="3.55"/><circle cx="574.4" cy="581.9" r="3.55"/><circle cx="1373.9" cy="602.4" r="3.55"/><circle cx="583.3" cy="592.4" r="3.55"/><circle cx="1326.7" cy="576.0" r="3.55"/><circle cx="624.5" cy="583.3" r="3.55"/><circle cx="1369.7" cy="643.8" r="3.55"/><circle cx="1143.4" cy="579.7" r="3.55"/><circle cx="1354.2" cy="616.9" r="3.55"/><circle cx="312.9" cy="593.8" r="3.55"/><circle cx="712.9" cy="563.8" r="3.55"/><circle cx="247.2" cy="603.5" r="3.55"/><circle cx="563.0" cy="599.4" r="3.55"/><circle cx="934.4" cy="627.8" r="3.55"/><circle cx="1043.1" cy="597.7" r="3.55"/><circle cx="633.5" cy="595.6" r="3.55"/><circle cx="974.4" cy="601.1" r="3.55"/><circle cx="846.7" cy="595.3" r="3.55"/><circle cx="1061.6" cy="594.1" r="3.55"/><circle cx="757.7" cy="575.1" r="3.55"/><circle cx="835.3" cy="544.4" r="3.55"/><circle cx="1099.2" cy="576.6" r="3.55"/><circle cx="734.4" cy="581.2" r="3.55"/><circle cx="944.0" cy="577.8" r="3.55"/><circle cx="555.9" cy="635.2" r="3.55"/><circle cx="612.5" cy="558.3" r="3.55"/><circle cx="323.0" cy="620.3" r="3.55"/><circle cx="862.8" cy="603.1" r="3.55"/><circle cx="1155.8" cy="637.7" r="3.55"/><circle cx="951.2" cy="610.3" r="3.55"/><circle cx="1202.9" cy="552.0" r="3.55"/><circle cx="1024.6" cy="591.2" r="3.55"/><circle cx="1179.8" cy="628.1" r="3.55"/><circle cx="414.4" cy="566.3" r="3.55"/><circle cx="1350.6" cy="591.4" r="3.55"/><circle cx="1158.4" cy="621.1" r="3.55"/><circle cx="294.4" cy="590.8" r="3.55"/><circle cx="891.5" cy="598.4" r="3.55"/><circle cx="239.4" cy="622.3" r="3.55"/><circle cx="393.5" cy="592.8" r="3.55"/><circle cx="1051.5" cy="585.0" r="3.55"/><circle cx="573.2" cy="611.9" r="3.55"/><circle cx="1156.6" cy="567.0" r="3.55"/><circle cx="674.7" cy="687.0" r="3.55"/><circle cx="661.0" cy="557.7" r="3.55"/><circle cx="253.7" cy="598.6" r="3.55"/><circle cx="926.7" cy="619.8" r="3.55"/><circle cx="564.8" cy="610.3" r="3.55"/><circle cx="842.5" cy="625.7" r="3.55"/><circle cx="773.2" cy="575.8" r="3.55"/><circle cx="349.0" cy="575.0" r="3.55"/><circle cx="1113.6" cy="597.2" r="3.55"/><circle cx="901.0" cy="615.0" r="3.55"/><circle cx="1388.2" cy="624.5" r="3.55"/><circle cx="914.1" cy="572.5" r="3.55"/><circle cx="797.1" cy="592.2" r="3.55"/><circle cx="625.7" cy="580.5" r="3.55"/><circle cx="358.2" cy="608.1" r="3.55"/><circle cx="1281.4" cy="615.5" r="3.55"/><circle cx="609.5" cy="557.0" r="3.55"/><circle cx="964.9" cy="592.3" r="3.55"/><circle cx="391.7" cy="612.0" r="3.55"/><circle cx="1345.2" cy="627.7" r="3.55"/><circle cx="1134.5" cy="619.7" r="3.55"/><circle cx="361.2" cy="611.5" r="3.55"/><circle cx="908.2" cy="578.5" r="3.55"/><circle cx="1351.8" cy="559.3" r="3.55"/><circle cx="621.6" cy="562.1" r="3.55"/><circle cx="674.1" cy="572.0" r="3.55"/><circle cx="529.0" cy="612.7" r="3.55"/><circle cx="580.4" cy="594.4" r="3.55"/><circle cx="1332.7" cy="564.4" r="3.55"/><circle cx="763.1" cy="618.6" r="3.55"/><circle cx="1116.6" cy="556.8" r="3.55"/><circle cx="416.8" cy="575.6" r="3.55"/><circle cx="1265.2" cy="582.7" r="3.55"/><circle cx="452.0" cy="587.5" r="3.55"/><circle cx="1145.2" cy="569.6" r="3.55"/><circle cx="644.3" cy="594.9" r="3.55"/><circle cx="1346.4" cy="644.6" r="3.55"/><circle cx="1300.5" cy="608.3" r="3.55"/><circle cx="1074.2" cy="587.7" r="3.55"/><circle cx="935.0" cy="590.8" r="3.55"/><circle cx="1131.5" cy="593.1" r="3.55"/><circle cx="714.1" cy="608.7" r="3.55"/><circle cx="629.3" cy="573.1" r="3.55"/><circle cx="942.2" cy="554.0" r="3.55"/><circle cx="680.7" cy="579.9" r="3.55"/><circle cx="852.0" cy="567.9" r="3.55"/><circle cx="1351.2" cy="560.1" r="3.55"/><circle cx="1022.2" cy="597.9" r="3.55"/><circle cx="553.5" cy="595.9" r="3.55"/><circle cx="743.5" cy="651.0" r="3.55"/><circle cx="736.7" cy="547.7" r="3.55"/><circle cx="517.7" cy="591.3" r="3.55"/><circle cx="449.0" cy="588.3" r="3.55"/><circle cx="438.3" cy="605.4" r="3.55"/><circle cx="875.3" cy="597.7" r="3.55"/><circle cx="1343.6" cy="530.1" r="3.55"/><circle cx="336.1" cy="586.2" r="3.55"/><circle cx="1380.5" cy="592.1" r="3.55"/><circle cx="620.4" cy="613.1" r="3.55"/><circle cx="485.4" cy="565.9" r="3.55"/><circle cx="799.8" cy="649.0" r="3.55"/><circle cx="992.4" cy="606.6" r="3.55"/><circle cx="1200.2" cy="615.5" r="3.55"/><circle cx="565.4" cy="581.0" r="3.55"/><circle cx="360.6" cy="607.7" r="3.55"/><circle cx="1359.0" cy="614.5" r="3.55"/><circle cx="286.1" cy="626.7" r="3.55"/><circle cx="913.5" cy="587.9" r="3.55"/><circle cx="440.0" cy="584.4" r="3.55"/><circle cx="606.6" cy="575.0" r="3.55"/><circle cx="927.9" cy="591.2" r="3.55"/><circle cx="408.4" cy="599.0" r="3.55"/><circle cx="1261.1" cy="567.1" r="3.55"/><circle cx="1136.9" cy="628.7" r="3.55"/><circle cx="287.8" cy="598.5" r="3.55"/><circle cx="1332.1" cy="600.6" r="3.55"/><circle cx="731.1" cy="631.9" r="3.55"/><circle cx="241.2" cy="613.0" r="3.55"/><circle cx="286.6" cy="620.7" r="3.55"/><circle cx="754.1" cy="592.7" r="3.55"/><circle cx="995.9" cy="580.1" r="3.55"/><circle cx="1318.4" cy="587.2" r="3.55"/><circle cx="665.7" cy="558.9" r="3.55"/><circle cx="666.9" cy="602.3" r="3.55"/><circle cx="1314.8" cy="628.9" r="3.55"/><circle cx="561.2" cy="550.5" r="3.55"/><circle cx="1117.8" cy="576.1" r="3.55"/><circle cx="1347.0" cy="570.6" r="3.55"/><circle cx="377.3" cy="614.6" r="3.55"/><circle cx="792.9" cy="579.4" r="3.55"/><circle cx="1125.5" cy="577.2" r="3.55"/><circle cx="1077.1" cy="612.6" r="3.55"/><circle cx="680.1" cy="614.3" r="3.55"/><circle cx="1063.4" cy="589.3" r="3.55"/><circle cx="848.5" cy="577.7" r="3.55"/><circle cx="473.8" cy="556.2" r="3.55"/><circle cx="940.4" cy="611.0" r="3.55"/><circle cx="1293.3" cy="617.1" r="3.55"/><circle cx="1239.0" cy="620.8" r="3.55"/><circle cx="532.0" cy="592.2" r="3.55"/><circle cx="619.2" cy="586.0" r="3.55"/><circle cx="991.8" cy="568.6" r="3.55"/><circle cx="754.7" cy="599.5" r="3.55"/><circle cx="959.4" cy="644.0" r="3.55"/><circle cx="789.9" cy="601.0" r="3.55"/><circle cx="750.5" cy="590.5" r="3.55"/><circle cx="963.1" cy="579.2" r="3.55"/><circle cx="1393.0" cy="629.0" r="3.55"/><circle cx="296.7" cy="595.7" r="3.55"/><circle cx="806.6" cy="553.2" r="3.55"/><circle cx="522.4" cy="599.3" r="3.55"/><circle cx="1279.0" cy="549.6" r="3.55"/><circle cx="941.6" cy="594.5" r="3.55"/><circle cx="835.9" cy="571.7" r="3.55"/><circle cx="335.6" cy="593.4" r="3.55"/><circle cx="870.6" cy="637.7" r="3.55"/><circle cx="732.1" cy="544.4" r="3.55"/><circle cx="738.7" cy="644.7" r="3.55"/><circle cx="1119.5" cy="610.5" r="3.55"/><circle cx="1115.4" cy="572.7" r="3.55"/><circle cx="1307.6" cy="610.1" r="3.55"/><circle cx="548.7" cy="583.0" r="3.55"/><circle cx="369.6" cy="591.5" r="3.55"/><circle cx="941.3" cy="652.8" r="3.55"/><circle cx="890.3" cy="624.2" r="3.55"/><circle cx="1107.0" cy="622.0" r="3.55"/><circle cx="446.0" cy="606.2" r="3.55"/><circle cx="378.5" cy="590.0" r="3.55"/><circle cx="1296.3" cy="574.6" r="3.55"/><circle cx="738.0" cy="561.0" r="3.55"/><circle cx="1027.0" cy="601.2" r="3.55"/><circle cx="1222.2" cy="646.2" r="3.55"/><circle cx="463.3" cy="585.3" r="3.55"/><circle cx="1254.5" cy="625.5" r="3.55"/><circle cx="661.6" cy="603.9" r="3.55"/><circle cx="466.9" cy="585.6" r="3.55"/><circle cx="1001.3" cy="560.5" r="3.55"/><circle cx="993.6" cy="584.0" r="3.55"/><circle cx="1045.5" cy="637.7" r="3.55"/><circle cx="654.4" cy="621.2" r="3.55"/><circle cx="1393.8" cy="636.5" r="3.55"/><circle cx="852.6" cy="593.3" r="3.55"/><circle cx="909.4" cy="612.4" r="3.55"/><circle cx="1368.5" cy="609.0" r="3.55"/><circle cx="1368.1" cy="689.9" r="3.55"/><circle cx="1010.9" cy="603.7" r="3.55"/><circle cx="1138.6" cy="610.6" r="3.55"/><circle cx="1194.3" cy="538.6" r="3.55"/><circle cx="1037.7" cy="603.3" r="3.55"/><circle cx="1369.2" cy="659.4" r="3.55"/><circle cx="1199.0" cy="576.3" r="3.55"/><circle cx="525.4" cy="614.5" r="3.55"/><circle cx="526.0" cy="618.0" r="3.55"/><circle cx="1135.2" cy="533.8" r="3.55"/><circle cx="661.1" cy="630.6" r="3.55"/><circle cx="900.4" cy="613.8" r="3.55"/><circle cx="905.2" cy="608.5" r="3.55"/><circle cx="286.0" cy="588.1" r="3.55"/><circle cx="1033.6" cy="603.3" r="3.55"/><circle cx="784.6" cy="600.8" r="3.55"/><circle cx="797.7" cy="566.1" r="3.55"/><circle cx="962.5" cy="606.5" r="3.55"/><circle cx="316.4" cy="609.7" r="3.55"/><circle cx="543.9" cy="598.8" r="3.55"/><circle cx="1255.7" cy="587.0" r="3.55"/><circle cx="887.3" cy="573.4" r="3.55"/><circle cx="825.2" cy="575.1" r="3.55"/><circle cx="613.8" cy="580.8" r="3.55"/><circle cx="279.4" cy="602.3" r="3.55"/><circle cx="396.5" cy="578.0" r="3.55"/><circle cx="767.3" cy="597.9" r="3.55"/><circle cx="1098.0" cy="588.4" r="3.55"/><circle cx="957.7" cy="580.0" r="3.55"/><circle cx="874.1" cy="604.8" r="3.55"/><circle cx="1314.2" cy="539.0" r="3.55"/><circle cx="1393.6" cy="597.9" r="3.55"/><circle cx="789.3" cy="597.4" r="3.55"/><circle cx="743.4" cy="557.2" r="3.55"/><circle cx="469.3" cy="578.5" r="3.55"/><circle cx="1044.5" cy="525.8" r="3.55"/><circle cx="306.3" cy="605.8" r="3.55"/><circle cx="985.1" cy="657.3" r="3.55"/><circle cx="267.5" cy="608.9" r="3.55"/><circle cx="298.5" cy="593.4" r="3.55"/><circle cx="1230.2" cy="651.5" r="3.55"/><circle cx="887.9" cy="567.5" r="3.55"/><circle cx="790.0" cy="552.5" r="3.55"/><circle cx="837.1" cy="590.2" r="3.55"/><circle cx="700.4" cy="600.3" r="3.55"/><circle cx="589.9" cy="552.5" r="3.55"/><circle cx="761.8" cy="630.6" r="3.55"/><circle cx="1322.6" cy="593.8" r="3.55"/><circle cx="1320.8" cy="589.6" r="3.55"/><circle cx="1365.0" cy="588.7" r="3.55"/><circle cx="1025.8" cy="592.7" r="3.55"/><circle cx="975.6" cy="585.4" r="3.55"/><circle cx="549.3" cy="590.6" r="3.55"/><circle cx="351.7" cy="582.5" r="3.55"/><circle cx="832.9" cy="571.2" r="3.55"/><circle cx="315.8" cy="591.2" r="3.55"/><circle cx="827.0" cy="601.0" r="3.55"/><circle cx="822.8" cy="615.0" r="3.55"/><circle cx="318.2" cy="623.0" r="3.55"/><circle cx="727.2" cy="590.0" r="3.55"/><circle cx="650.2" cy="592.1" r="3.55"/><circle cx="380.9" cy="598.9" r="3.55"/><circle cx="1286.7" cy="586.2" r="3.55"/><circle cx="1389.4" cy="593.1" r="3.55"/><circle cx="1108.8" cy="610.2" r="3.55"/><circle cx="701.0" cy="571.2" r="3.55"/><circle cx="658.6" cy="596.2" r="3.55"/><circle cx="1166.7" cy="571.8" r="3.55"/><circle cx="323.6" cy="596.8" r="3.55"/><circle cx="862.2" cy="571.4" r="3.55"/><circle cx="1079.0" cy="637.7" r="3.55"/><circle cx="410.2" cy="611.6" r="3.55"/><circle cx="1145.8" cy="608.1" r="3.55"/><circle cx="375.6" cy="614.6" r="3.55"/><circle cx="342.1" cy="591.3" r="3.55"/><circle cx="711.1" cy="616.4" r="3.55"/><circle cx="1170.9" cy="598.0" r="3.55"/><circle cx="1163.7" cy="627.5" r="3.55"/><circle cx="785.2" cy="603.6" r="3.55"/><circle cx="990.7" cy="532.3" r="3.55"/><circle cx="340.3" cy="596.3" r="3.55"/><circle cx="1004.3" cy="566.2" r="3.55"/><circle cx="1142.0" cy="657.8" r="3.55"/><circle cx="462.3" cy="623.6" r="3.55"/><circle cx="1178.1" cy="613.9" r="3.55"/><circle cx="1323.2" cy="589.1" r="3.55"/><circle cx="1330.3" cy="577.4" r="3.55"/><circle cx="1118.6" cy="659.8" r="3.55"/><circle cx="1242.1" cy="546.5" r="3.55"/><circle cx="670.5" cy="596.8" r="3.55"/><circle cx="1138.2" cy="639.0" r="3.55"/><circle cx="1267.0" cy="569.8" r="3.55"/><circle cx="1069.0" cy="472.2" r="3.55"/><circle cx="740.4" cy="627.6" r="3.55"/><circle cx="406.0" cy="589.0" r="3.55"/><circle cx="686.6" cy="616.7" r="3.55"/><circle cx="299.1" cy="589.3" r="3.55"/><circle cx="695.4" cy="550.5" r="3.55"/><circle cx="359.4" cy="581.4" r="3.55"/><circle cx="1190.6" cy="554.5" r="3.55"/><circle cx="571.4" cy="583.1" r="3.55"/><circle cx="1072.4" cy="591.9" r="3.55"/><circle cx="764.3" cy="576.2" r="3.55"/><circle cx="1276.0" cy="617.8" r="3.55"/><circle cx="810.2" cy="605.5" r="3.55"/><circle cx="747.5" cy="587.6" r="3.55"/><circle cx="1225.8" cy="610.1" r="3.55"/><circle cx="425.1" cy="581.3" r="3.55"/><circle cx="407.8" cy="588.0" r="3.55"/><circle cx="576.8" cy="542.1" r="3.55"/><circle cx="561.9" cy="574.2" r="3.55"/><circle cx="1182.8" cy="569.7" r="3.55"/><circle cx="967.9" cy="617.0" r="3.55"/><circle cx="362.4" cy="582.9" r="3.55"/><circle cx="892.0" cy="599.8" r="3.55"/><circle cx="1269.5" cy="550.5" r="3.55"/><circle cx="929.1" cy="593.4" r="3.55"/><circle cx="415.0" cy="603.8" r="3.55"/><circle cx="1151.2" cy="576.8" r="3.55"/><circle cx="1197.4" cy="540.1" r="3.55"/><circle cx="1318.2" cy="647.8" r="3.55"/><circle cx="703.4" cy="603.4" r="3.55"/><circle cx="447.6" cy="564.2" r="3.55"/><circle cx="869.4" cy="594.8" r="3.55"/><circle cx="641.3" cy="586.4" r="3.55"/><circle cx="238.8" cy="622.5" r="3.55"/><circle cx="864.6" cy="581.2" r="3.55"/><circle cx="480.0" cy="588.7" r="3.55"/><circle cx="708.1" cy="597.0" r="3.55"/><circle cx="314.7" cy="594.6" r="3.55"/><circle cx="1303.4" cy="572.9" r="3.55"/><circle cx="1311.8" cy="585.3" r="3.55"/><circle cx="511.1" cy="554.9" r="3.55"/><circle cx="1052.1" cy="598.1" r="3.55"/><circle cx="487.2" cy="575.1" r="3.55"/><circle cx="269.3" cy="599.8" r="3.55"/><circle cx="1058.0" cy="580.4" r="3.55"/><circle cx="450.8" cy="599.8" r="3.55"/><circle cx="1217.5" cy="649.0" r="3.55"/><circle cx="1283.6" cy="550.9" r="3.55"/><circle cx="370.6" cy="630.5" r="3.55"/><circle cx="232.8" cy="603.7" r="3.55"/><circle cx="1394.8" cy="586.7" r="3.55"/><circle cx="552.9" cy="581.2" r="3.55"/><circle cx="1213.3" cy="589.8" r="3.55"/><circle cx="1110.0" cy="587.6" r="3.55"/><circle cx="521.2" cy="572.4" r="3.55"/><circle cx="715.3" cy="597.7" r="3.55"/><circle cx="1287.3" cy="649.1" r="3.55"/><circle cx="254.3" cy="618.4" r="3.55"/><circle cx="1344.3" cy="536.5" r="3.55"/><circle cx="1235.4" cy="566.4" r="3.55"/><circle cx="471.1" cy="560.2" r="3.55"/><circle cx="1186.4" cy="601.3" r="3.55"/><circle cx="775.6" cy="575.4" r="3.55"/><circle cx="1167.3" cy="596.9" r="3.55"/><circle cx="693.2" cy="597.3" r="3.55"/><circle cx="360.0" cy="586.8" r="3.55"/><circle cx="542.0" cy="553.5" r="3.55"/><circle cx="1238.6" cy="532.8" r="3.55"/><circle cx="1375.7" cy="598.8" r="3.55"/><circle cx="351.1" cy="604.9" r="3.55"/><circle cx="991.2" cy="601.6" r="3.55"/><circle cx="1292.7" cy="602.3" r="3.55"/><circle cx="398.8" cy="573.7" r="3.55"/><circle cx="1336.7" cy="548.6" r="3.55"/><circle cx="493.8" cy="586.6" r="3.55"/><circle cx="1301.1" cy="568.5" r="3.55"/><circle cx="1344.1" cy="578.2" r="3.55"/><circle cx="999.5" cy="550.9" r="3.55"/><circle cx="831.7" cy="595.8" r="3.55"/><circle cx="404.2" cy="581.6" r="3.55"/><circle cx="1155.4" cy="615.9" r="3.55"/><circle cx="1172.1" cy="608.3" r="3.55"/><circle cx="1339.3" cy="611.2" r="3.55"/><circle cx="355.3" cy="616.3" r="3.55"/><circle cx="1258.2" cy="537.3" r="3.55"/><circle cx="787.6" cy="568.9" r="3.55"/><circle cx="730.8" cy="582.4" r="3.55"/><circle cx="526.6" cy="618.9" r="3.55"/><circle cx="402.9" cy="562.5" r="3.55"/><circle cx="622.8" cy="590.1" r="3.55"/><circle cx="1184.0" cy="577.1" r="3.55"/><circle cx="1130.3" cy="612.8" r="3.55"/><circle cx="489.0" cy="583.6" r="3.55"/><circle cx="1152.5" cy="676.7" r="3.55"/><circle cx="707.5" cy="577.8" r="3.55"/><circle cx="275.8" cy="607.3" r="3.55"/><circle cx="843.1" cy="593.6" r="3.55"/><circle cx="1232.4" cy="562.5" r="3.55"/><circle cx="1007.9" cy="568.0" r="3.55"/><circle cx="1342.3" cy="603.5" r="3.55"/><circle cx="1296.2" cy="680.0" r="3.55"/><circle cx="1231.8" cy="573.5" r="3.55"/><circle cx="1167.1" cy="552.7" r="3.55"/><circle cx="559.5" cy="580.6" r="3.55"/><circle cx="894.4" cy="583.2" r="3.55"/><circle cx="723.7" cy="598.0" r="3.55"/><circle cx="423.9" cy="592.1" r="3.55"/><circle cx="717.1" cy="577.3" r="3.55"/><circle cx="242.4" cy="615.8" r="3.55"/><circle cx="1143.2" cy="637.7" r="3.55"/><circle cx="1277.2" cy="612.3" r="3.55"/><circle cx="947.0" cy="579.9" r="3.55"/><circle cx="864.0" cy="605.5" r="3.55"/><circle cx="563.6" cy="602.1" r="3.55"/><circle cx="1348.8" cy="618.4" r="3.55"/><circle cx="889.7" cy="584.0" r="3.55"/><circle cx="1082.5" cy="626.5" r="3.55"/><circle cx="558.9" cy="616.2" r="3.55"/><circle cx="773.8" cy="610.1" r="3.55"/><circle cx="1071.2" cy="602.3" r="3.55"/><circle cx="333.8" cy="609.2" r="3.55"/><circle cx="1361.4" cy="573.4" r="3.55"/><circle cx="910.0" cy="560.8" r="3.55"/><circle cx="366.0" cy="586.4" r="3.55"/><circle cx="1359.6" cy="589.9" r="3.55"/><circle cx="555.9" cy="594.6" r="3.55"/><circle cx="767.9" cy="593.2" r="3.55"/><circle cx="562.4" cy="627.1" r="3.55"/><circle cx="681.3" cy="585.7" r="3.55"/><circle cx="1317.8" cy="590.9" r="3.55"/><circle cx="806.1" cy="610.7" r="3.55"/><circle cx="409.6" cy="604.3" r="3.55"/><circle cx="434.1" cy="598.7" r="3.55"/><circle cx="1209.2" cy="530.1" r="3.55"/><circle cx="1279.6" cy="597.4" r="3.55"/><circle cx="1017.4" cy="646.5" r="3.55"/><circle cx="1039.5" cy="605.2" r="3.55"/><circle cx="274.6" cy="615.1" r="3.55"/><circle cx="1146.4" cy="571.4" r="3.55"/><circle cx="386.9" cy="598.7" r="3.55"/><circle cx="1165.5" cy="586.5" r="3.55"/><circle cx="642.5" cy="593.3" r="3.55"/><circle cx="1237.2" cy="608.1" r="3.55"/><circle cx="759.3" cy="552.7" r="3.55"/><circle cx="689.0" cy="579.1" r="3.55"/><circle cx="1169.1" cy="591.5" r="3.55"/><circle cx="674.7" cy="597.7" r="3.55"/><circle cx="959.4" cy="628.1" r="3.55"/><circle cx="1130.9" cy="609.2" r="3.55"/><circle cx="964.3" cy="576.9" r="3.55"/><circle cx="512.9" cy="572.8" r="3.55"/><circle cx="1123.1" cy="599.5" r="3.55"/><circle cx="1249.1" cy="654.2" r="3.55"/><circle cx="1101.2" cy="540.6" r="3.55"/><circle cx="1067.6" cy="604.1" r="3.55"/><circle cx="650.8" cy="575.5" r="3.55"/><circle cx="1337.5" cy="611.2" r="3.55"/><circle cx="724.3" cy="582.5" r="3.55"/><circle cx="1042.5" cy="567.0" r="3.55"/><circle cx="311.1" cy="605.1" r="3.55"/><circle cx="1310.0" cy="582.8" r="3.55"/><circle cx="1118.9" cy="576.8" r="3.55"/><circle cx="1077.7" cy="619.3" r="3.55"/><circle cx="832.3" cy="589.7" r="3.55"/><circle cx="923.7" cy="581.3" r="3.55"/><circle cx="702.2" cy="599.6" r="3.55"/><circle cx="978.6" cy="578.3" r="3.55"/><circle cx="736.2" cy="608.1" r="3.55"/><circle cx="1117.6" cy="550.5" r="3.55"/><circle cx="630.5" cy="583.0" r="3.55"/><circle cx="902.2" cy="582.5" r="3.55"/><circle cx="1255.1" cy="577.1" r="3.55"/><circle cx="1261.7" cy="613.2" r="3.55"/><circle cx="908.3" cy="644.7" r="3.55"/><circle cx="1262.4" cy="547.3" r="3.55"/><circle cx="1290.9" cy="573.4" r="3.55"/><circle cx="1046.7" cy="596.6" r="3.55"/><circle cx="1118.3" cy="614.2" r="3.55"/><circle cx="1044.9" cy="562.3" r="3.55"/><circle cx="1243.1" cy="554.5" r="3.55"/><circle cx="851.4" cy="609.9" r="3.55"/><circle cx="554.7" cy="584.0" r="3.55"/><circle cx="759.3" cy="627.1" r="3.55"/><circle cx="1307.0" cy="583.7" r="3.55"/><circle cx="875.9" cy="557.9" r="3.55"/><circle cx="1348.0" cy="554.6" r="3.55"/><circle cx="922.5" cy="563.2" r="3.55"/><circle cx="1207.4" cy="645.2" r="3.55"/><circle cx="1105.2" cy="620.5" r="3.55"/><circle cx="1087.3" cy="628.8" r="3.55"/><circle cx="1329.2" cy="532.8" r="3.55"/><circle cx="646.6" cy="579.6" r="3.55"/><circle cx="631.1" cy="594.1" r="3.55"/><circle cx="1019.9" cy="671.7" r="3.55"/><circle cx="1271.2" cy="574.7" r="3.55"/><circle cx="1262.2" cy="628.2" r="3.55"/><circle cx="1257.5" cy="597.7" r="3.55"/><circle cx="1232.5" cy="661.5" r="3.55"/><circle cx="1319.0" cy="589.5" r="3.55"/><circle cx="821.6" cy="615.9" r="3.55"/><circle cx="1034.8" cy="619.9" r="3.55"/><circle cx="960.1" cy="616.6" r="3.55"/><circle cx="1030.0" cy="617.0" r="3.55"/><circle cx="856.8" cy="596.9" r="3.55"/><circle cx="954.7" cy="593.8" r="3.55"/><circle cx="1273.0" cy="616.1" r="3.55"/><circle cx="357.4" cy="577.2" r="3.55"/><circle cx="1395.1" cy="552.1" r="3.55"/><circle cx="1178.7" cy="588.9" r="3.55"/><circle cx="1072.7" cy="551.7" r="3.55"/><circle cx="324.8" cy="591.8" r="3.55"/><circle cx="417.2" cy="617.3" r="3.55"/><circle cx="1260.8" cy="554.6" r="3.55"/><circle cx="603.1" cy="599.6" r="3.55"/><circle cx="293.4" cy="580.0" r="3.55"/><circle cx="1253.9" cy="584.4" r="3.55"/><circle cx="1180.4" cy="589.3" r="3.55"/><circle cx="702.8" cy="569.7" r="3.55"/><circle cx="1009.7" cy="563.3" r="3.55"/><circle cx="961.9" cy="571.7" r="3.55"/><circle cx="1346.4" cy="611.1" r="3.55"/><circle cx="424.5" cy="584.9" r="3.55"/><circle cx="552.3" cy="593.4" r="3.55"/><circle cx="1249.7" cy="608.3" r="3.55"/><circle cx="1083.7" cy="590.3" r="3.55"/><circle cx="1013.9" cy="565.6" r="3.55"/><circle cx="938.0" cy="577.8" r="3.55"/><circle cx="1358.0" cy="520.8" r="3.55"/><circle cx="1390.6" cy="564.2" r="3.55"/><circle cx="234.0" cy="610.0" r="3.55"/><circle cx="794.7" cy="568.3" r="3.55"/><circle cx="958.9" cy="567.6" r="3.55"/><circle cx="1220.5" cy="600.6" r="3.55"/><circle cx="1187.0" cy="594.1" r="3.55"/><circle cx="341.5" cy="621.8" r="3.55"/><circle cx="468.1" cy="589.4" r="3.55"/><circle cx="1278.4" cy="596.7" r="3.55"/><circle cx="569.6" cy="581.7" r="3.55"/><circle cx="272.9" cy="608.7" r="3.55"/><circle cx="324.2" cy="610.1" r="3.55"/><circle cx="345.1" cy="607.8" r="3.55"/><circle cx="449.6" cy="606.8" r="3.55"/><circle cx="1022.4" cy="550.2" r="3.55"/><circle cx="1182.2" cy="568.7" r="3.55"/><circle cx="297.9" cy="586.0" r="3.55"/><circle cx="804.3" cy="576.0" r="3.55"/><circle cx="1103.4" cy="570.6" r="3.55"/><circle cx="513.3" cy="554.8" r="3.55"/><circle cx="886.7" cy="581.6" r="3.55"/><circle cx="953.9" cy="537.4" r="3.55"/><circle cx="600.7" cy="616.3" r="3.55"/><circle cx="1384.1" cy="570.6" r="3.55"/><circle cx="1325.5" cy="618.9" r="3.55"/><circle cx="616.8" cy="588.9" r="3.55"/><circle cx="256.1" cy="609.0" r="3.55"/><circle cx="1153.6" cy="581.7" r="3.55"/><circle cx="659.2" cy="601.6" r="3.55"/><circle cx="1306.2" cy="555.4" r="3.55"/><circle cx="1012.1" cy="612.1" r="3.55"/><circle cx="1191.8" cy="623.5" r="3.55"/><circle cx="1246.1" cy="625.4" r="3.55"/><circle cx="652.6" cy="582.2" r="3.55"/><circle cx="274.0" cy="599.3" r="3.55"/><circle cx="833.5" cy="622.4" r="3.55"/><circle cx="920.7" cy="607.8" r="3.55"/><circle cx="412.6" cy="580.8" r="3.55"/><circle cx="874.7" cy="628.6" r="3.55"/><circle cx="1049.1" cy="610.5" r="3.55"/><circle cx="830.5" cy="603.5" r="3.55"/><circle cx="1233.6" cy="594.4" r="3.55"/><circle cx="1298.1" cy="586.4" r="3.55"/><circle cx="237.0" cy="607.5" r="3.55"/><circle cx="1084.9" cy="587.4" r="3.55"/><circle cx="431.9" cy="619.4" r="3.55"/><circle cx="1274.8" cy="556.2" r="3.55"/><circle cx="486.0" cy="595.4" r="3.55"/><circle cx="1071.8" cy="563.2" r="3.55"/><circle cx="792.3" cy="582.0" r="3.55"/><circle cx="1096.3" cy="568.9" r="3.55"/><circle cx="348.7" cy="596.0" r="3.55"/><circle cx="858.6" cy="580.1" r="3.55"/><circle cx="1347.6" cy="610.7" r="3.55"/><circle cx="1315.0" cy="649.1" r="3.55"/><circle cx="785.8" cy="607.9" r="3.55"/><circle cx="498.0" cy="598.9" r="3.55"/><circle cx="726.1" cy="598.5" r="3.55"/><circle cx="634.7" cy="618.5" r="3.55"/><circle cx="742.2" cy="575.5" r="3.55"/><circle cx="683.7" cy="563.0" r="3.55"/><circle cx="699.8" cy="600.4" r="3.55"/><circle cx="1277.8" cy="616.8" r="3.55"/><circle cx="567.8" cy="580.3" r="3.55"/><circle cx="601.9" cy="579.7" r="3.55"/><circle cx="669.9" cy="574.7" r="3.55"/><circle cx="768.4" cy="593.9" r="3.55"/><circle cx="1260.5" cy="615.0" r="3.55"/><circle cx="616.2" cy="605.7" r="3.55"/><circle cx="1160.1" cy="624.9" r="3.55"/><circle cx="1014.5" cy="583.7" r="3.55"/><circle cx="560.7" cy="567.9" r="3.55"/><circle cx="1064.6" cy="588.1" r="3.55"/><circle cx="489.6" cy="594.1" r="3.55"/><circle cx="744.6" cy="619.7" r="3.55"/><circle cx="459.7" cy="601.2" r="3.55"/><circle cx="739.2" cy="560.5" r="3.55"/><circle cx="481.2" cy="604.4" r="3.55"/><circle cx="394.7" cy="617.2" r="3.55"/><circle cx="1381.1" cy="617.9" r="3.55"/><circle cx="1124.9" cy="558.4" r="3.55"/><circle cx="293.8" cy="609.5" r="3.55"/><circle cx="1105.0" cy="538.6" r="3.55"/><circle cx="762.5" cy="568.0" r="3.55"/><circle cx="690.8" cy="597.1" r="3.55"/><circle cx="247.8" cy="604.2" r="3.55"/><circle cx="892.6" cy="604.4" r="3.55"/><circle cx="691.4" cy="625.8" r="3.55"/><circle cx="373.2" cy="609.9" r="3.55"/><circle cx="1147.6" cy="568.6" r="3.55"/><circle cx="1333.3" cy="470.1" r="3.55"/><circle cx="504.5" cy="588.6" r="3.55"/><circle cx="1090.3" cy="579.5" r="3.55"/><circle cx="369.0" cy="609.1" r="3.55"/><circle cx="232.3" cy="612.6" r="3.55"/><circle cx="984.6" cy="579.7" r="3.55"/><circle cx="1190.6" cy="597.3" r="3.55"/><circle cx="550.5" cy="588.4" r="3.55"/><circle cx="530.2" cy="639.0" r="3.55"/><circle cx="541.5" cy="575.4" r="3.55"/><circle cx="693.8" cy="590.3" r="3.55"/><circle cx="701.6" cy="622.6" r="3.55"/><circle cx="1209.1" cy="625.0" r="3.55"/><circle cx="507.5" cy="575.8" r="3.55"/><circle cx="569.7" cy="556.7" r="3.55"/><circle cx="1355.5" cy="634.9" r="3.55"/><circle cx="1064.0" cy="596.6" r="3.55"/><circle cx="285.4" cy="620.0" r="3.55"/><circle cx="898.0" cy="580.3" r="3.55"/><circle cx="494.4" cy="606.7" r="3.55"/><circle cx="1284.4" cy="497.9" r="3.55"/><circle cx="1124.3" cy="603.2" r="3.55"/><circle cx="458.0" cy="572.5" r="3.55"/><circle cx="697.4" cy="588.2" r="3.55"/><circle cx="1075.4" cy="608.0" r="3.55"/><circle cx="1265.9" cy="640.2" r="3.55"/><circle cx="695.6" cy="583.6" r="3.55"/><circle cx="960.7" cy="531.3" r="3.55"/><circle cx="480.6" cy="572.6" r="3.55"/><circle cx="420.3" cy="600.5" r="3.55"/><circle cx="593.5" cy="584.6" r="3.55"/><circle cx="678.3" cy="583.5" r="3.55"/><circle cx="1087.8" cy="675.0" r="3.55"/><circle cx="1147.0" cy="614.4" r="3.55"/><circle cx="370.2" cy="581.2" r="3.55"/><circle cx="421.5" cy="598.6" r="3.55"/><circle cx="695.0" cy="616.1" r="3.55"/><circle cx="1284.9" cy="542.5" r="3.55"/><circle cx="290.2" cy="592.6" r="3.55"/><circle cx="704.0" cy="607.5" r="3.55"/><circle cx="894.2" cy="507.7" r="3.55"/><circle cx="819.8" cy="583.5" r="3.55"/><circle cx="1031.2" cy="579.7" r="3.55"/><circle cx="1123.6" cy="635.2" r="3.55"/><circle cx="638.3" cy="618.7" r="3.55"/><circle cx="1226.4" cy="608.0" r="3.55"/><circle cx="977.4" cy="589.2" r="3.55"/><circle cx="1109.2" cy="546.4" r="3.55"/><circle cx="1149.4" cy="575.2" r="3.55"/><circle cx="498.6" cy="605.8" r="3.55"/><circle cx="1076.0" cy="604.7" r="3.55"/><circle cx="708.7" cy="592.3" r="3.55"/><circle cx="696.8" cy="593.3" r="3.55"/><circle cx="530.8" cy="588.8" r="3.55"/><circle cx="366.6" cy="600.7" r="3.55"/><circle cx="614.4" cy="589.4" r="3.55"/><circle cx="1021.1" cy="548.2" r="3.55"/><circle cx="1196.6" cy="617.6" r="3.55"/><circle cx="577.4" cy="603.4" r="3.55"/><circle cx="1181.0" cy="612.5" r="3.55"/><circle cx="944.8" cy="540.9" r="3.55"/><circle cx="385.1" cy="571.4" r="3.55"/><circle cx="1319.6" cy="607.5" r="3.55"/><circle cx="546.3" cy="620.8" r="3.55"/><circle cx="457.0" cy="545.7" r="3.55"/><circle cx="876.4" cy="627.6" r="3.55"/><circle cx="502.1" cy="578.4" r="3.55"/><circle cx="1087.9" cy="560.8" r="3.55"/><circle cx="1357.2" cy="618.7" r="3.55"/><circle cx="1151.8" cy="558.8" r="3.55"/><circle cx="1227.3" cy="634.1" r="3.55"/><circle cx="849.7" cy="608.0" r="3.55"/><circle cx="870.6" cy="594.6" r="3.55"/><circle cx="1204.4" cy="513.7" r="3.55"/><circle cx="1164.3" cy="570.1" r="3.55"/><circle cx="1122.5" cy="590.2" r="3.55"/><circle cx="318.8" cy="596.2" r="3.55"/><circle cx="435.9" cy="579.1" r="3.55"/><circle cx="1331.5" cy="592.3" r="3.55"/><circle cx="517.1" cy="603.4" r="3.55"/><circle cx="529.6" cy="591.8" r="3.55"/><circle cx="541.0" cy="586.3" r="3.55"/><circle cx="1219.9" cy="573.6" r="3.55"/><circle cx="570.2" cy="579.4" r="3.55"/><circle cx="1013.3" cy="549.0" r="3.55"/><circle cx="1188.2" cy="592.4" r="3.55"/><circle cx="1387.0" cy="609.0" r="3.55"/><circle cx="294.9" cy="592.0" r="3.55"/><circle cx="818.6" cy="619.1" r="3.55"/><circle cx="372.0" cy="606.4" r="3.55"/><circle cx="617.8" cy="534.3" r="3.55"/><circle cx="1004.9" cy="588.9" r="3.55"/><circle cx="1345.8" cy="605.4" r="3.55"/><circle cx="447.2" cy="589.1" r="3.55"/><circle cx="246.6" cy="620.1" r="3.55"/><circle cx="392.9" cy="586.6" r="3.55"/><circle cx="263.0" cy="640.3" r="3.55"/><circle cx="1123.7" cy="571.7" r="3.55"/><circle cx="1321.4" cy="611.3" r="3.55"/><circle cx="1333.3" cy="564.6" r="3.55"/><circle cx="1334.5" cy="607.1" r="3.55"/><circle cx="271.1" cy="600.4" r="3.55"/><circle cx="1324.9" cy="610.4" r="3.55"/><circle cx="879.5" cy="578.9" r="3.55"/><circle cx="766.7" cy="605.7" r="3.55"/><circle cx="1201.9" cy="582.3" r="3.55"/><circle cx="514.7" cy="584.4" r="3.55"/><circle cx="954.1" cy="593.5" r="3.55"/><circle cx="628.7" cy="572.0" r="3.55"/><circle cx="740.4" cy="582.5" r="3.55"/><circle cx="332.0" cy="607.0" r="3.55"/><circle cx="799.5" cy="591.7" r="3.55"/><circle cx="1129.4" cy="639.0" r="3.55"/><circle cx="817.4" cy="599.3" r="3.55"/><circle cx="1135.1" cy="624.1" r="3.55"/><circle cx="1160.7" cy="573.2" r="3.55"/><circle cx="388.1" cy="608.7" r="3.55"/><circle cx="1327.9" cy="627.4" r="3.55"/><circle cx="1195.4" cy="580.4" r="3.55"/><circle cx="1287.9" cy="609.1" r="3.55"/><circle cx="1358.4" cy="573.0" r="3.55"/><circle cx="308.1" cy="600.2" r="3.55"/><circle cx="1258.7" cy="620.3" r="3.55"/><circle cx="1163.1" cy="580.4" r="3.55"/><circle cx="1047.3" cy="616.5" r="3.55"/><circle cx="1313.6" cy="665.2" r="3.55"/><circle cx="860.4" cy="552.6" r="3.55"/><circle cx="971.3" cy="639.0" r="3.55"/><circle cx="646.0" cy="600.5" r="3.55"/><circle cx="840.7" cy="586.4" r="3.55"/><circle cx="859.2" cy="566.7" r="3.55"/><circle cx="903.4" cy="575.4" r="3.55"/><circle cx="277.0" cy="621.1" r="3.55"/><circle cx="659.1" cy="557.0" r="3.55"/><circle cx="304.5" cy="599.3" r="3.55"/><circle cx="720.3" cy="637.7" r="3.55"/><circle cx="1049.7" cy="600.9" r="3.55"/><circle cx="1311.0" cy="561.0" r="3.55"/><circle cx="1319.7" cy="493.9" r="3.55"/><circle cx="1100.4" cy="583.5" r="3.55"/><circle cx="594.4" cy="558.3" r="3.55"/><circle cx="1137.5" cy="584.4" r="3.55"/><circle cx="339.7" cy="609.6" r="3.55"/><circle cx="733.2" cy="578.0" r="3.55"/><circle cx="329.0" cy="595.3" r="3.55"/><circle cx="935.6" cy="573.3" r="3.55"/><circle cx="1110.6" cy="560.3" r="3.55"/><circle cx="944.6" cy="577.7" r="3.55"/><circle cx="685.5" cy="578.7" r="3.55"/><circle cx="867.0" cy="565.7" r="3.55"/><circle cx="364.2" cy="595.9" r="3.55"/><circle cx="1102.2" cy="607.0" r="3.55"/><circle cx="785.0" cy="635.9" r="3.55"/><circle cx="537.4" cy="582.9" r="3.55"/><circle cx="320.0" cy="595.8" r="3.55"/><circle cx="1070.0" cy="571.1" r="3.55"/><circle cx="410.8" cy="602.4" r="3.55"/><circle cx="1055.1" cy="635.2" r="3.55"/><circle cx="981.6" cy="557.3" r="3.55"/><circle cx="1392.4" cy="618.4" r="3.55"/><circle cx="1176.9" cy="609.7" r="3.55"/><circle cx="748.7" cy="588.6" r="3.55"/><circle cx="329.6" cy="608.8" r="3.55"/><circle cx="764.6" cy="537.1" r="3.55"/><circle cx="1140.4" cy="614.5" r="3.55"/><circle cx="675.3" cy="579.0" r="3.55"/><circle cx="423.3" cy="605.9" r="3.55"/><circle cx="920.4" cy="665.6" r="3.55"/><circle cx="1299.7" cy="554.6" r="3.55"/><circle cx="429.9" cy="586.2" r="3.55"/><circle cx="1286.1" cy="546.2" r="3.55"/><circle cx="1341.7" cy="612.7" r="3.55"/><circle cx="1197.8" cy="577.7" r="3.55"/><circle cx="782.0" cy="550.7" r="3.55"/><circle cx="871.1" cy="597.7" r="3.55"/><circle cx="583.9" cy="578.2" r="3.55"/><circle cx="899.8" cy="578.3" r="3.55"/><circle cx="1062.8" cy="599.6" r="3.55"/><circle cx="1285.3" cy="630.1" r="3.55"/><circle cx="349.9" cy="603.1" r="3.55"/><circle cx="272.3" cy="616.6" r="3.55"/><circle cx="265.7" cy="598.4" r="3.55"/><circle cx="1394.3" cy="643.8" r="3.55"/><circle cx="231.7" cy="603.5" r="3.55"/><circle cx="1270.6" cy="618.2" r="3.55"/><circle cx="824.6" cy="606.9" r="3.55"/><circle cx="337.3" cy="601.5" r="3.55"/><circle cx="605.4" cy="585.4" r="3.55"/><circle cx="387.5" cy="604.4" r="3.55"/><circle cx="933.2" cy="576.0" r="3.55"/><circle cx="640.7" cy="585.7" r="3.55"/><circle cx="588.1" cy="600.8" r="3.55"/><circle cx="393.1" cy="622.5" r="3.55"/><circle cx="871.7" cy="588.6" r="3.55"/><circle cx="696.2" cy="610.0" r="3.55"/><circle cx="651.4" cy="566.5" r="3.55"/><circle cx="1038.9" cy="598.2" r="3.55"/><circle cx="826.4" cy="598.5" r="3.55"/><circle cx="1382.9" cy="649.1" r="3.55"/><circle cx="582.3" cy="559.0" r="3.55"/><circle cx="376.8" cy="615.4" r="3.55"/><circle cx="1302.9" cy="549.7" r="3.55"/><circle cx="625.1" cy="599.0" r="3.55"/><circle cx="927.3" cy="605.3" r="3.55"/><circle cx="945.8" cy="580.8" r="3.55"/><circle cx="1174.5" cy="569.2" r="3.55"/><circle cx="658.0" cy="603.3" r="3.55"/><circle cx="450.2" cy="596.1" r="3.55"/><circle cx="340.9" cy="614.8" r="3.55"/><circle cx="1202.5" cy="601.7" r="3.55"/><circle cx="1093.9" cy="626.1" r="3.55"/><circle cx="426.3" cy="607.4" r="3.55"/><circle cx="795.3" cy="593.2" r="3.55"/><circle cx="1298.1" cy="629.0" r="3.55"/><circle cx="1062.2" cy="577.1" r="3.55"/><circle cx="462.1" cy="610.4" r="3.55"/><circle cx="500.4" cy="576.3" r="3.55"/><circle cx="1037.5" cy="534.3" r="3.55"/><circle cx="664.0" cy="575.8" r="3.55"/><circle cx="403.0" cy="597.7" r="3.55"/><circle cx="1132.7" cy="583.0" r="3.55"/><circle cx="1214.5" cy="581.0" r="3.55"/><circle cx="257.9" cy="614.3" r="3.55"/><circle cx="653.2" cy="581.0" r="3.55"/><circle cx="760.7" cy="580.7" r="3.55"/><circle cx="973.3" cy="626.4" r="3.55"/><circle cx="634.1" cy="559.3" r="3.55"/><circle cx="816.2" cy="594.3" r="3.55"/><circle cx="407.2" cy="609.8" r="3.55"/><circle cx="1023.4" cy="583.0" r="3.55"/><circle cx="527.7" cy="626.4" r="3.55"/><circle cx="942.8" cy="628.8" r="3.55"/><circle cx="772.0" cy="567.5" r="3.55"/><circle cx="252.6" cy="605.7" r="3.55"/><circle cx="1295.7" cy="587.8" r="3.55"/><circle cx="1381.8" cy="630.6" r="3.55"/><circle cx="858.0" cy="604.8" r="3.55"/><circle cx="567.2" cy="592.7" r="3.55"/><circle cx="1268.8" cy="553.3" r="3.55"/><circle cx="545.1" cy="592.9" r="3.55"/><circle cx="335.0" cy="594.5" r="3.55"/><circle cx="1283.3" cy="636.5" r="3.55"/><circle cx="948.8" cy="610.1" r="3.55"/><circle cx="1102.8" cy="590.7" r="3.55"/><circle cx="378.8" cy="565.7" r="3.55"/><circle cx="1353.0" cy="591.5" r="3.55"/><circle cx="688.4" cy="623.8" r="3.55"/><circle cx="814.4" cy="577.0" r="3.55"/><circle cx="829.4" cy="584.2" r="3.55"/><circle cx="1357.8" cy="590.8" r="3.55"/><circle cx="389.3" cy="583.4" r="3.55"/><circle cx="1113.8" cy="639.0" r="3.55"/><circle cx="649.5" cy="637.2" r="3.55"/><circle cx="1036.7" cy="530.6" r="3.55"/><circle cx="321.2" cy="619.8" r="3.55"/><circle cx="342.7" cy="592.8" r="3.55"/><circle cx="1177.5" cy="567.7" r="3.55"/><circle cx="841.9" cy="573.6" r="3.55"/><circle cx="1238.4" cy="596.4" r="3.55"/><circle cx="1389.0" cy="543.0" r="3.55"/><circle cx="1310.6" cy="563.9" r="3.55"/><circle cx="1338.3" cy="668.7" r="3.55"/><circle cx="718.9" cy="612.3" r="3.55"/><circle cx="291.4" cy="603.6" r="3.55"/><circle cx="1168.5" cy="595.0" r="3.55"/><circle cx="1010.3" cy="561.3" r="3.55"/><circle cx="548.1" cy="618.0" r="3.55"/><circle cx="1104.6" cy="606.1" r="3.55"/><circle cx="1236.0" cy="608.5" r="3.55"/><circle cx="757.1" cy="593.2" r="3.55"/><circle cx="807.7" cy="535.9" r="3.55"/><circle cx="726.7" cy="586.3" r="3.55"/><circle cx="1230.0" cy="624.1" r="3.55"/><circle cx="1312.4" cy="597.2" r="3.55"/><circle cx="551.1" cy="599.8" r="3.55"/><circle cx="924.9" cy="617.9" r="3.55"/><circle cx="1101.6" cy="580.9" r="3.55"/><circle cx="349.3" cy="583.0" r="3.55"/><circle cx="771.9" cy="631.4" r="3.55"/><circle cx="868.8" cy="598.8" r="3.55"/><circle cx="278.8" cy="613.1" r="3.55"/><circle cx="557.1" cy="600.2" r="3.55"/><circle cx="692.6" cy="606.6" r="3.55"/><circle cx="284.8" cy="619.7" r="3.55"/><circle cx="299.7" cy="597.3" r="3.55"/><circle cx="945.2" cy="552.0" r="3.55"/><circle cx="610.8" cy="582.9" r="3.55"/><circle cx="330.8" cy="607.8" r="3.55"/><circle cx="1284.9" cy="551.6" r="3.55"/><circle cx="733.8" cy="576.7" r="3.55"/><circle cx="1350.4" cy="560.2" r="3.55"/><circle cx="1050.9" cy="597.8" r="3.55"/><circle cx="1199.6" cy="605.2" r="3.55"/><circle cx="867.6" cy="587.2" r="3.55"/><circle cx="870.0" cy="563.9" r="3.55"/><circle cx="1317.2" cy="585.4" r="3.55"/><circle cx="436.5" cy="588.3" r="3.55"/><circle cx="1106.4" cy="593.5" r="3.55"/><circle cx="1382.3" cy="574.4" r="3.55"/><circle cx="998.3" cy="613.4" r="3.55"/><circle cx="1386.6" cy="562.6" r="3.55"/><circle cx="998.9" cy="615.5" r="3.55"/><circle cx="537.8" cy="642.2" r="3.55"/><circle cx="1250.9" cy="567.3" r="3.55"/><circle cx="597.7" cy="627.6" r="3.55"/><circle cx="679.5" cy="559.3" r="3.55"/><circle cx="1315.4" cy="567.4" r="3.55"/><circle cx="1353.6" cy="543.0" r="3.55"/><circle cx="283.0" cy="580.3" r="3.55"/><circle cx="301.5" cy="608.5" r="3.55"/><circle cx="1341.1" cy="596.5" r="3.55"/><circle cx="671.7" cy="595.0" r="3.55"/><circle cx="575.6" cy="589.1" r="3.55"/><circle cx="1240.8" cy="550.3" r="3.55"/><circle cx="1356.0" cy="572.3" r="3.55"/><circle cx="488.4" cy="607.5" r="3.55"/><circle cx="375.0" cy="595.4" r="3.55"/><circle cx="1073.5" cy="641.0" r="3.55"/><circle cx="1080.7" cy="598.5" r="3.55"/><circle cx="1138.1" cy="616.1" r="3.55"/><circle cx="283.6" cy="602.9" r="3.55"/><circle cx="1304.0" cy="569.0" r="3.55"/><circle cx="783.4" cy="573.7" r="3.55"/><circle cx="720.7" cy="613.8" r="3.55"/><circle cx="709.9" cy="587.1" r="3.55"/><circle cx="1227.0" cy="600.4" r="3.55"/><circle cx="1302.5" cy="643.3" r="3.55"/><circle cx="576.8" cy="607.3" r="3.55"/><circle cx="629.9" cy="605.2" r="3.55"/><circle cx="648.4" cy="607.7" r="3.55"/><circle cx="495.6" cy="612.0" r="3.55"/><circle cx="1193.6" cy="544.4" r="3.55"/><circle cx="1330.9" cy="507.6" r="3.55"/><circle cx="1291.2" cy="551.7" r="3.55"/><circle cx="305.7" cy="586.1" r="3.55"/><circle cx="1173.9" cy="596.3" r="3.55"/><circle cx="632.3" cy="578.3" r="3.55"/><circle cx="448.4" cy="616.8" r="3.55"/><circle cx="302.1" cy="587.6" r="3.55"/><circle cx="1229.0" cy="629.3" r="3.55"/><circle cx="744.0" cy="592.0" r="3.55"/><circle cx="262.1" cy="620.2" r="3.55"/><circle cx="1289.1" cy="567.9" r="3.55"/><circle cx="327.8" cy="616.3" r="3.55"/><circle cx="636.5" cy="590.3" r="3.55"/><circle cx="1196.0" cy="559.4" r="3.55"/><circle cx="307.5" cy="593.6" r="3.55"/><circle cx="615.8" cy="642.2" r="3.55"/><circle cx="539.2" cy="566.5" r="3.55"/><circle cx="1171.2" cy="538.4" r="3.55"/><circle cx="926.1" cy="590.7" r="3.55"/><circle cx="1216.9" cy="626.3" r="3.55"/><circle cx="761.3" cy="571.9" r="3.55"/><circle cx="607.2" cy="605.1" r="3.55"/><circle cx="379.4" cy="619.4" r="3.55"/><circle cx="418.0" cy="571.2" r="3.55"/><circle cx="268.1" cy="601.4" r="3.55"/><circle cx="886.1" cy="595.1" r="3.55"/><circle cx="1366.1" cy="584.9" r="3.55"/><circle cx="865.2" cy="578.2" r="3.55"/><circle cx="887.2" cy="527.8" r="3.55"/><circle cx="1015.1" cy="568.6" r="3.55"/><circle cx="715.5" cy="539.9" r="3.55"/><circle cx="912.9" cy="573.5" r="3.55"/><circle cx="1244.3" cy="579.5" r="3.55"/><circle cx="904.1" cy="641.5" r="3.55"/><circle cx="1027.6" cy="566.5" r="3.55"/><circle cx="917.1" cy="587.6" r="3.55"/><circle cx="255.5" cy="596.7" r="3.55"/><circle cx="714.0" cy="535.1" r="3.55"/><circle cx="1383.4" cy="715.4" r="3.55"/><circle cx="374.4" cy="613.9" r="3.55"/><circle cx="911.2" cy="593.6" r="3.55"/><circle cx="932.3" cy="540.6" r="3.55"/><circle cx="923.1" cy="601.7" r="3.55"/><circle cx="1161.9" cy="601.7" r="3.55"/><circle cx="1175.1" cy="602.5" r="3.55"/><circle cx="660.4" cy="608.1" r="3.55"/><circle cx="829.9" cy="599.4" r="3.55"/><circle cx="389.5" cy="559.4" r="3.55"/><circle cx="732.0" cy="585.2" r="3.55"/><circle cx="1377.7" cy="561.0" r="3.55"/><circle cx="873.5" cy="566.7" r="3.55"/><circle cx="756.5" cy="595.1" r="3.55"/><circle cx="358.8" cy="600.0" r="3.55"/><circle cx="908.8" cy="573.7" r="3.55"/><circle cx="460.3" cy="611.6" r="3.55"/><circle cx="483.6" cy="594.6" r="3.55"/><circle cx="637.2" cy="555.2" r="3.55"/><circle cx="736.8" cy="568.6" r="3.55"/><circle cx="1154.8" cy="588.5" r="3.55"/><circle cx="1157.2" cy="562.0" r="3.55"/><circle cx="345.7" cy="583.5" r="3.55"/><circle cx="398.2" cy="590.7" r="3.55"/><circle cx="1326.1" cy="588.0" r="3.55"/><circle cx="1003.7" cy="612.7" r="3.55"/><circle cx="280.0" cy="604.4" r="3.55"/><circle cx="866.4" cy="598.1" r="3.55"/><circle cx="1390.8" cy="513.9" r="3.55"/><circle cx="975.8" cy="533.6" r="3.55"/><circle cx="444.2" cy="597.0" r="3.55"/><circle cx="647.8" cy="577.6" r="3.55"/><circle cx="1234.2" cy="592.6" r="3.55"/><circle cx="850.3" cy="557.7" r="3.55"/><circle cx="1121.3" cy="601.1" r="3.55"/><circle cx="1185.8" cy="618.9" r="3.55"/><circle cx="1370.3" cy="555.9" r="3.55"/><circle cx="561.3" cy="604.9" r="3.55"/><circle cx="960.7" cy="614.3" r="3.55"/><circle cx="1227.6" cy="590.2" r="3.55"/><circle cx="1062.7" cy="658.6" r="3.55"/><circle cx="445.4" cy="615.4" r="3.55"/><circle cx="1141.6" cy="614.4" r="3.55"/><circle cx="1258.7" cy="681.6" r="3.55"/><circle cx="714.7" cy="583.0" r="3.55"/><circle cx="859.5" cy="666.6" r="3.55"/><circle cx="321.8" cy="587.8" r="3.55"/><circle cx="1202.4" cy="632.2" r="3.55"/><circle cx="909.1" cy="543.9" r="3.55"/><circle cx="1287.3" cy="576.9" r="3.55"/><circle cx="1172.7" cy="572.1" r="3.55"/><circle cx="639.5" cy="602.0" r="3.55"/><circle cx="1378.7" cy="598.4" r="3.55"/><circle cx="519.5" cy="611.9" r="3.55"/><circle cx="573.8" cy="627.6" r="3.55"/><circle cx="793.5" cy="571.4" r="3.55"/><circle cx="250.2" cy="613.5" r="3.55"/><circle cx="1203.1" cy="578.6" r="3.55"/><circle cx="1167.1" cy="632.7" r="3.55"/><circle cx="1105.5" cy="510.2" r="3.55"/><circle cx="1256.9" cy="601.1" r="3.55"/><circle cx="737.9" cy="635.2" r="3.55"/><circle cx="615.0" cy="562.4" r="3.55"/><circle cx="995.2" cy="682.5" r="3.55"/><circle cx="458.6" cy="612.1" r="3.55"/><circle cx="273.5" cy="616.0" r="3.55"/><circle cx="246.0" cy="598.8" r="3.55"/><circle cx="1233.0" cy="602.0" r="3.55"/><circle cx="1149.0" cy="654.1" r="3.55"/><circle cx="336.7" cy="592.2" r="3.55"/><circle cx="377.9" cy="609.8" r="3.55"/><circle cx="465.4" cy="554.1" r="3.55"/><circle cx="1078.3" cy="586.2" r="3.55"/><circle cx="1145.7" cy="631.4" r="3.55"/><circle cx="352.3" cy="614.1" r="3.55"/><circle cx="694.4" cy="585.8" r="3.55"/><circle cx="582.2" cy="614.2" r="3.55"/><circle cx="1269.4" cy="609.1" r="3.55"/><circle cx="999.2" cy="650.3" r="3.55"/><circle cx="673.2" cy="637.2" r="3.55"/><circle cx="1302.9" cy="552.9" r="3.55"/><circle cx="1216.3" cy="587.7" r="3.55"/><circle cx="807.9" cy="603.9" r="3.55"/><circle cx="1183.4" cy="624.2" r="3.55"/><circle cx="1349.4" cy="579.8" r="3.55"/><circle cx="1360.2" cy="627.3" r="3.55"/><circle cx="237.6" cy="618.3" r="3.55"/><circle cx="1309.4" cy="580.8" r="3.55"/><circle cx="669.3" cy="560.5" r="3.55"/><circle cx="963.7" cy="546.2" r="3.55"/><circle cx="930.9" cy="598.8" r="3.55"/><circle cx="431.7" cy="592.1" r="3.55"/><circle cx="1192.3" cy="633.9" r="3.55"/><circle cx="1374.7" cy="519.6" r="3.55"/><circle cx="296.1" cy="596.8" r="3.55"/><circle cx="950.0" cy="593.3" r="3.55"/><circle cx="536.2" cy="581.7" r="3.55"/><circle cx="884.3" cy="572.6" r="3.55"/><circle cx="729.0" cy="584.6" r="3.55"/><circle cx="1365.5" cy="571.7" r="3.55"/><circle cx="1111.8" cy="600.1" r="3.55"/><circle cx="1067.0" cy="586.2" r="3.55"/><circle cx="1382.9" cy="600.1" r="3.55"/><circle cx="506.9" cy="615.9" r="3.55"/><circle cx="1328.5" cy="610.4" r="3.55"/><circle cx="260.3" cy="621.2" r="3.55"/><circle cx="1211.5" cy="569.7" r="3.55"/><circle cx="627.5" cy="575.5" r="3.55"/><circle cx="629.2" cy="634.7" r="3.55"/><circle cx="851.7" cy="546.4" r="3.55"/><circle cx="713.5" cy="580.0" r="3.55"/><circle cx="837.9" cy="548.2" r="3.55"/><circle cx="597.1" cy="594.6" r="3.55"/><circle cx="778.0" cy="596.5" r="3.55"/><circle cx="438.8" cy="605.8" r="3.55"/><circle cx="914.7" cy="623.6" r="3.55"/><circle cx="849.1" cy="607.8" r="3.55"/><circle cx="664.6" cy="570.5" r="3.55"/><circle cx="612.0" cy="589.5" r="3.55"/><circle cx="481.2" cy="556.2" r="3.55"/><circle cx="905.8" cy="625.3" r="3.55"/><circle cx="477.7" cy="593.8" r="3.55"/><circle cx="449.7" cy="619.4" r="3.55"/><circle cx="841.3" cy="573.1" r="3.55"/><circle cx="1132.1" cy="597.0" r="3.55"/><circle cx="800.7" cy="585.0" r="3.55"/><circle cx="382.7" cy="593.3" r="3.55"/><circle cx="1367.3" cy="621.5" r="3.55"/><circle cx="652.0" cy="598.8" r="3.55"/><circle cx="259.9" cy="627.8" r="3.55"/><circle cx="994.2" cy="570.8" r="3.55"/><circle cx="328.4" cy="604.8" r="3.55"/><circle cx="795.1" cy="523.8" r="3.55"/><circle cx="834.1" cy="600.1" r="3.55"/><circle cx="478.9" cy="567.4" r="3.55"/><circle cx="1148.2" cy="589.6" r="3.55"/><circle cx="1127.9" cy="587.1" r="3.55"/><circle cx="984.0" cy="626.2" r="3.55"/><circle cx="1131.1" cy="650.3" r="3.55"/><circle cx="276.4" cy="618.8" r="3.55"/><circle cx="499.0" cy="559.8" r="3.55"/><circle cx="649.6" cy="589.1" r="3.55"/><circle cx="671.1" cy="589.9" r="3.55"/><circle cx="1191.2" cy="577.8" r="3.55"/><circle cx="950.6" cy="561.0" r="3.55"/><circle cx="970.9" cy="577.1" r="3.55"/><circle cx="784.0" cy="543.7" r="3.55"/><circle cx="1021.9" cy="512.4" r="3.55"/><circle cx="420.9" cy="567.7" r="3.55"/><circle cx="1000.7" cy="612.6" r="3.55"/><circle cx="1336.3" cy="556.9" r="3.55"/><circle cx="916.5" cy="600.3" r="3.55"/><circle cx="1045.5" cy="608.7" r="3.55"/><circle cx="1224.0" cy="577.9" r="3.55"/><circle cx="524.2" cy="606.5" r="3.55"/><circle cx="591.7" cy="560.8" r="3.55"/><circle cx="249.6" cy="610.1" r="3.55"/><circle cx="787.0" cy="589.9" r="3.55"/><circle cx="969.7" cy="602.8" r="3.55"/><circle cx="801.3" cy="577.9" r="3.55"/><circle cx="1203.7" cy="613.2" r="3.55"/><circle cx="1209.7" cy="612.2" r="3.55"/><circle cx="1059.8" cy="581.2" r="3.55"/><circle cx="579.2" cy="583.5" r="3.55"/><circle cx="936.2" cy="566.6" r="3.55"/><circle cx="1285.5" cy="576.4" r="3.55"/><circle cx="828.8" cy="562.9" r="3.55"/><circle cx="289.0" cy="592.0" r="3.55"/><circle cx="292.6" cy="607.7" r="3.55"/><circle cx="241.8" cy="616.9" r="3.55"/><circle cx="1135.7" cy="601.4" r="3.55"/><circle cx="1240.2" cy="571.2" r="3.55"/><circle cx="782.0" cy="626.4" r="3.55"/><circle cx="832.3" cy="521.0" r="3.55"/><circle cx="300.9" cy="595.0" r="3.55"/><circle cx="976.8" cy="558.8" r="3.55"/><circle cx="1313.6" cy="568.0" r="3.55"/><circle cx="1194.8" cy="577.5" r="3.55"/><circle cx="780.4" cy="598.4" r="3.55"/><circle cx="234.7" cy="632.0" r="3.55"/><circle cx="1365.7" cy="555.8" r="3.55"/><circle cx="1120.8" cy="543.7" r="3.55"/><circle cx="1176.3" cy="574.2" r="3.55"/><circle cx="281.8" cy="612.9" r="3.55"/><circle cx="1355.4" cy="600.0" r="3.55"/><circle cx="464.5" cy="614.1" r="3.55"/><circle cx="707.2" cy="531.8" r="3.55"/><circle cx="643.7" cy="606.4" r="3.55"/><circle cx="456.2" cy="580.7" r="3.55"/><circle cx="1095.1" cy="608.4" r="3.55"/><circle cx="390.5" cy="607.0" r="3.55"/><circle cx="1226.2" cy="536.9" r="3.55"/><circle cx="1041.9" cy="588.7" r="3.55"/><circle cx="585.1" cy="616.5" r="3.55"/><circle cx="1179.3" cy="580.6" r="3.55"/></g>
<path d="M232.6 618.2C235.8 617.1 244.9 613.4 251.5 611.5C258.1 609.6 265.4 607.9 272.4 606.7C279.4 605.6 284.6 605.2 293.4 604.6C302.1 604.0 314.4 603.6 324.9 603.1C335.4 602.6 345.9 602.4 356.4 601.5C366.9 600.6 379.1 599.0 387.8 597.9C396.5 596.8 401.8 595.8 408.8 594.8C415.8 593.8 422.8 592.5 429.8 591.6C436.8 590.7 444.5 589.9 450.8 589.5C457.1 589.1 462.3 589.0 467.5 589.2C472.7 589.4 478.0 590.0 482.2 590.6C486.4 591.2 489.7 591.9 492.7 592.7C495.7 593.5 499.0 594.8 500.3 595.2" fill="none" stroke="#2c9c47" stroke-width="2.3" stroke-linecap="butt" stroke-linejoin="round"/>
<path d="M500.3 595.2C503.6 594.9 513.0 594.0 520.0 593.5C527.0 593.0 531.3 592.5 542.0 592.0C552.7 591.5 566.5 591.0 584.0 590.6C601.5 590.2 625.8 589.8 646.8 589.5C667.8 589.2 684.3 588.8 709.8 588.7C735.3 588.6 767.5 588.7 800.0 589.1C832.5 589.5 869.9 590.3 904.9 591.0C939.9 591.7 977.3 592.8 1009.8 593.5C1042.3 594.2 1074.5 594.9 1100.0 595.2C1125.5 595.6 1138.5 595.7 1163.0 595.6C1187.5 595.5 1222.3 595.4 1246.8 594.8C1271.3 594.2 1290.6 592.9 1309.8 592.0C1329.0 591.1 1347.8 590.2 1362.0 589.5C1376.2 588.8 1389.5 588.1 1395.0 587.8" fill="none" stroke="#2c9c47" stroke-width="2.3" stroke-linecap="butt" stroke-linejoin="round"/>
<g font-size="27.3px" fill="#111" stroke="#111" stroke-width="0.35"><text x="153.4" y="782.3" text-anchor="end" textLength="14.4" lengthAdjust="spacingAndGlyphs">0</text><text x="153.4" y="634.6" text-anchor="end" textLength="28.8" lengthAdjust="spacingAndGlyphs">20</text><text x="153.4" y="486.9" text-anchor="end" textLength="28.8" lengthAdjust="spacingAndGlyphs">40</text><text x="153.4" y="339.3" text-anchor="end" textLength="28.8" lengthAdjust="spacingAndGlyphs">60</text><text x="153.4" y="191.6" text-anchor="end" textLength="28.8" lengthAdjust="spacingAndGlyphs">80</text><text x="153.4" y="43.9" text-anchor="end" textLength="43.3" lengthAdjust="spacingAndGlyphs">100</text><text x="202.2" y="811.5" text-anchor="middle" textLength="14.4" lengthAdjust="spacingAndGlyphs">0</text><text x="500.8" y="811.5" text-anchor="middle" textLength="43.3" lengthAdjust="spacingAndGlyphs">500</text><text x="799.3" y="811.5" text-anchor="middle" textLength="57.7" lengthAdjust="spacingAndGlyphs">1000</text><text x="1097.9" y="811.5" text-anchor="middle" textLength="57.7" lengthAdjust="spacingAndGlyphs">1500</text><text x="1396.4" y="811.5" text-anchor="middle" textLength="57.7" lengthAdjust="spacingAndGlyphs">2000</text></g>
<g font-size="32px" fill="#111" stroke="#111" stroke-width="0.3" text-anchor="middle">
<text x="785" y="869" textLength="550.5" lengthAdjust="spacingAndGlyphs">Largest Medical Collections Tradeline</text>
<text x="785.4" y="902.5" textLength="683" lengthAdjust="spacingAndGlyphs">Initial Reported Balance in December 2022 ($)</text>
<text transform="translate(65.3,402.6) rotate(-90)" font-size="32.6px" textLength="327" lengthAdjust="spacingAndGlyphs">Percent of Consumers</text>
</g>
</svg>
</body></html>
